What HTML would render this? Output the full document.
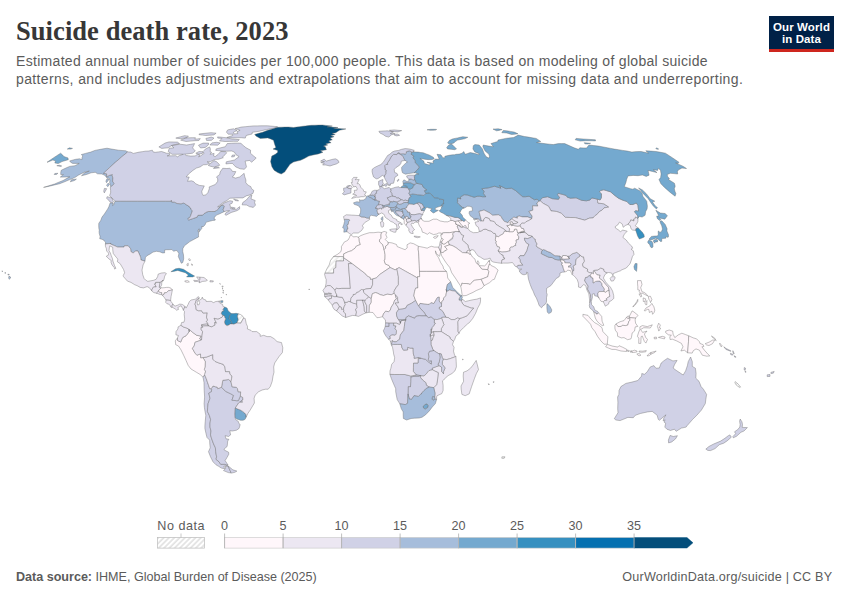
<!DOCTYPE html>
<html><head><meta charset="utf-8"><title>Suicide death rate, 2023</title>
<style>
html,body{margin:0;padding:0;background:#fff;}
body{width:850px;height:600px;position:relative;overflow:hidden;font-family:"Liberation Sans",sans-serif;color:#5b5b5b;}
#title{position:absolute;left:16px;top:15.5px;font-family:"Liberation Serif",serif;font-weight:bold;font-size:26.5px;line-height:30px;color:#373737;white-space:nowrap;letter-spacing:0.07px;transform-origin:0 0;}
.sub{position:absolute;left:16px;font-size:14px;line-height:16px;color:#5b5b5b;white-space:nowrap;}
#s1{top:52.5px;letter-spacing:0.31px;} #s2{top:71.3px;letter-spacing:0.378px;}
#logo{position:absolute;left:769px;top:16px;width:65px;height:35.8px;background:linear-gradient(to bottom,#002147 0,#002147 33.2px,#ce261e 33.2px,#ce261e 100%);color:#fff;font-weight:bold;font-size:11.5px;line-height:12.1px;text-align:center;letter-spacing:0.12px;}
#logo div{padding-top:5.1px;}
#map{position:absolute;left:0;top:0;}
.tk{position:absolute;top:518.6px;width:40px;text-align:center;font-size:12.6px;line-height:14px;color:#5b5b5b;}
#nd{position:absolute;left:157.3px;top:518.6px;font-size:12.6px;line-height:14px;white-space:nowrap;letter-spacing:0.5px;}
.ft{position:absolute;top:570px;font-size:12.6px;line-height:14px;white-space:nowrap;color:#5b5b5b;}
#fl{left:16px;letter-spacing:-0.02px;} #fr{right:17.7px;letter-spacing:0.2px;}
</style></head><body>
<div id="title">Suicide death rate, 2023</div>
<div class="sub" id="s1">Estimated annual number of suicides per 100,000 people. This data is based on modeling of global suicide</div>
<div class="sub" id="s2">patterns, and includes adjustments and extrapolations that aim to account for missing data and underreporting.</div>
<div id="logo"><div>Our World<br>in Data</div></div>
<svg id="map" width="850" height="600" viewBox="0 0 850 600">
<defs><pattern id="nd" width="3.75" height="3.75" patternUnits="userSpaceOnUse" patternTransform="rotate(45)"><rect width="3.75" height="3.75" fill="#fff"/><line x1="1" y1="0" x2="1" y2="3.75" stroke="#e6e6e6" stroke-width="1.2"/></pattern></defs>
<g stroke="#666" stroke-width="0.4" stroke-linejoin="round" fill-rule="evenodd">
<path d="M511.7,225.6L511.0,225.7L510.8,224.6ZM488.6,261.1L488.6,261.0L488.8,260.8L488.8,261.6ZM489.9,263.7L490.0,263.8L489.9,263.9ZM487.7,269.6L488.9,271.4L487.6,269.6ZM440.7,252.2L440.6,251.8L440.6,251.7L440.7,252.2ZM452.5,239.0L448.1,241.6L452.8,237.1ZM458.3,225.4L458.6,225.3L458.8,225.6ZM465.0,225.2L466.2,226.0L465.8,227.5L468.0,228.6L463.1,227.0ZM456.4,224.4L456.5,224.4L458.6,225.2L458.6,225.3Z" fill="#ece7f2" stroke="none"/>
<path d="M8.6,278.0L9.0,276.1L11.0,277.5L9.2,279.3ZM7.9,274.1L9.4,274.6L8.1,275.1ZM4.9,272.5L5.9,273.0L4.9,273.3ZM2.8,271.2L2.2,271.7L1.9,270.9ZM54.8,173.5L57.9,173.3L56.4,174.5L54.2,174.5ZM60.7,166.4L56.8,165.7L59.6,165.3L61.7,166.0ZM215.4,219.5L215.1,220.2L212.5,220.5L209.5,221.3L206.5,222.1L205.9,222.8L205.0,224.9L202.9,227.0L201.9,226.0L201.9,228.3L199.5,231.4L198.8,232.2L199.1,228.8L197.9,230.9L198.7,232.5L198.5,235.9L198.6,236.9L196.1,238.2L192.8,240.0L189.8,241.6L187.1,243.7L184.4,245.8L182.8,248.7L182.7,251.3L183.5,255.0L183.7,258.9L182.8,262.5L181.3,263.3L180.5,261.5L179.7,259.7L178.3,256.5L178.9,253.6L177.2,250.8L176.0,250.5L173.6,251.3L171.8,249.5L169.1,249.7L166.8,249.7L164.6,250.0L164.6,252.9L162.3,252.9L159.7,251.8L156.5,251.3L153.0,252.1L150.3,253.9L147.0,255.7L145.4,257.6L145.0,261.2L140.9,259.9L140.6,257.1L139.2,253.9L137.9,251.0L135.4,251.0L133.3,253.1L130.9,251.6L130.6,248.7L128.1,245.8L124.4,245.8L124.0,247.1L117.6,247.1L114.0,245.5L110.4,244.0L110.9,243.4L105.4,244.0L105.6,242.1L103.8,240.6L103.8,240.0L101.9,239.3L99.7,238.7L100.1,236.6L99.2,233.3L99.1,231.2L99.3,230.1L98.9,228.8L98.7,225.7L98.8,223.3L100.7,220.5L102.0,217.1L104.4,214.0L107.7,208.9L108.9,206.6L110.2,202.8L113.3,203.3L112.5,205.6L113.7,204.8L115.0,201.2L120.6,201.2L126.2,201.2L131.8,201.2L137.3,201.2L142.9,201.2L148.5,201.2L154.1,201.2L159.7,201.2L165.3,201.2L170.9,201.2L171.4,200.2L171.6,202.0L174.7,202.2L177.1,203.5L181.1,203.8L183.7,203.0L186.5,204.8L189.4,206.6L189.8,207.6L191.0,208.6L190.9,209.4L192.4,210.7L190.3,216.6L189.7,217.6L188.1,218.4L187.9,219.2L188.8,220.0L192.5,218.7L197.2,217.1L197.5,216.1L197.9,215.3L202.6,215.1L204.2,213.5L206.8,212.0L208.3,211.5L211.6,211.5L214.9,211.5L215.3,210.9L216.7,210.4L218.2,209.1L219.5,207.1L221.8,205.2L223.6,205.4L224.4,206.1L223.2,209.7L223.7,210.7L224.1,211.7L219.2,214.0L216.4,215.1L214.4,217.4L214.2,219.2ZM108.0,183.2L109.4,184.2L107.8,186.7L106.6,185.4ZM105.9,181.3L106.9,178.8L109.1,179.3L106.5,182.7ZM71.5,179.8L76.4,179.1L74.5,180.5L70.3,181.8ZM103.5,173.3L106.7,173.8L106.6,176.7L109.9,175.2L112.4,174.5L112.2,175.7L112.9,177.9L112.6,181.3L114.2,183.7L111.7,186.2L110.7,186.7L110.3,184.9L109.6,182.5L109.9,180.0L108.9,178.1L107.0,178.1L105.9,176.4L104.2,175.0L101.8,174.0L97.5,173.8L95.3,172.3L91.1,172.8L86.5,174.5L81.5,175.7L84.7,172.8L89.3,171.1L84.6,172.1L78.3,175.2L74.8,177.6L69.8,179.6L64.6,181.8L59.7,183.7L54.6,184.9L49.4,186.2L43.6,187.4L49.0,185.7L54.6,184.0L58.1,182.5L63.1,180.5L68.2,177.6L69.9,176.9L67.1,176.9L64.1,177.1L60.3,177.1L63.4,174.5L60.7,174.5L60.8,172.1L61.3,170.2L65.8,168.1L69.6,166.4L75.0,165.7L79.2,163.4L76.2,163.4L72.7,163.4L70.7,162.3L69.7,160.9L75.6,159.3L79.6,158.8L81.9,159.7L82.0,157.7L82.8,155.9L81.3,154.6L85.5,153.4L90.7,152.1L94.9,150.4L98.4,149.7L101.8,149.1L107.0,148.2L110.0,148.8L113.0,149.3L115.7,149.7L118.4,150.2L122.1,150.5L125.8,150.8L127.7,151.9L121.4,157.1L115.3,162.4L109.3,167.8Z" fill="#a6bddb"/>
<path d="M142.0,270.1L142.7,274.6L144.1,278.5L145.7,280.1L147.8,281.4L150.2,280.9L153.6,280.3L156.1,279.3L157.6,276.7L158.2,274.1L161.5,273.0L164.9,272.7L166.4,273.5L164.7,276.1L164.0,279.3L163.4,280.4L162.2,280.7L160.7,282.2L159.9,282.4L155.7,282.4L155.5,283.9L154.6,283.9L156.3,286.9L153.5,287.0L152.1,289.2L151.8,290.9L149.3,287.7L147.1,286.6L143.6,287.9L140.2,287.4L137.0,285.6L134.8,284.8L131.0,282.4L127.4,281.1L125.4,278.8L123.5,276.7L123.2,275.6L124.6,272.7L123.6,269.6L122.7,268.0L120.1,263.6L117.4,261.8L117.8,259.1L116.1,257.1L115.2,256.0L113.2,253.4L112.7,249.2L112.8,247.4L109.8,245.8L109.3,247.9L109.0,250.5L110.4,253.1L111.3,255.7L112.4,258.4L112.9,261.0L114.0,264.1L114.6,265.7L115.9,268.3L114.6,269.1L114.2,267.5L112.0,264.9L111.0,262.3L111.2,260.5L108.9,258.9L107.1,257.1L106.2,256.3L108.3,255.2L108.6,253.1L106.6,251.0L106.3,248.4L105.4,246.3L105.4,244.0L110.9,243.4L110.4,244.0L114.0,245.5L117.6,247.1L124.0,247.1L124.4,245.8L128.1,245.8L130.6,248.7L130.9,251.6L133.3,253.1L135.4,251.0L137.9,251.0L139.2,253.9L140.6,257.1L140.9,259.9L145.0,261.2L143.1,264.9Z" fill="#ece7f2"/>
<path d="M162.2,280.9L161.7,283.2L161.7,285.0L160.1,287.4L159.2,287.4L159.9,282.4L160.7,282.2L162.2,280.7L163.4,280.4L163.1,281.1Z" fill="#ece7f2"/>
<path d="M161.2,287.8L161.2,287.9L158.9,290.0L158.4,291.3L156.5,293.0L156.5,293.2L153.8,292.6L151.9,291.1L151.8,290.9L152.1,289.2L153.5,287.0L156.3,286.9L154.6,283.9L155.5,283.9L155.7,282.4L159.9,282.4L159.2,287.4L160.1,287.4L160.7,287.7Z" fill="#ece7f2"/>
<path d="M160.1,294.5L156.5,293.2L156.5,293.2L156.5,293.0L158.4,291.3L160.3,292.4L161.8,292.6L161.7,294.2L161.6,294.7Z" fill="#ece7f2"/>
<path d="M166.5,287.4L168.8,287.4L171.0,288.2L172.4,289.8L172.4,289.8L170.8,290.3L168.4,290.8L166.4,292.6L164.3,292.9L164.2,294.2L162.8,295.0L162.2,295.2L161.9,294.7L161.6,294.7L161.7,294.2L161.8,292.6L160.3,292.4L158.4,291.3L158.9,290.0L161.2,287.9L161.2,287.8L161.8,287.9L164.2,287.7Z" fill="#fff7fb"/>
<path d="M171.1,296.3L170.6,300.2L170.7,300.5L170.6,300.5L168.3,300.2L166.0,300.0L165.9,300.0L164.4,297.6L162.3,295.2L162.2,295.2L162.8,295.0L164.2,294.2L164.3,292.9L166.4,292.6L168.4,290.8L170.8,290.3L172.4,289.8L171.9,292.4Z" fill="#ece7f2"/>
<path d="M172.9,303.9L173.0,304.0L172.1,305.5L172.0,307.4L171.8,307.5L170.5,306.8L170.3,305.5L168.1,303.9L167.2,303.9L165.7,302.3L166.0,300.2L165.9,300.0L166.0,300.0L168.3,300.2L170.6,300.5L170.7,300.5L171.0,301.5Z" fill="#ece7f2"/>
<path d="M175.3,306.0L177.7,305.2L179.8,304.1L182.3,304.4L184.8,306.2L185.0,306.5L183.4,310.2L182.4,308.1L181.1,305.7L179.2,306.8L177.8,307.5L178.6,309.4L176.5,310.2L175.2,308.9L172.3,307.3L172.0,307.4L172.1,305.5L173.0,304.0L173.8,305.5Z" fill="#ece7f2"/>
<path d="M110.1,202.0L108.4,200.0L106.6,198.2L107.1,196.7L111.8,197.9L113.4,201.5L112.8,202.8ZM104.4,188.4L106.7,188.7L104.3,192.9L103.7,191.2ZM175.9,155.7L177.4,156.8L179.5,155.5L183.5,154.2L179.7,154.2L175.9,154.3L172.1,154.3L170.1,152.9L168.2,151.5L169.3,148.2L173.9,147.8L172.7,146.7L171.5,145.7L175.5,144.9L179.6,144.2L183.1,144.6L186.6,145.0L190.7,144.3L194.6,143.6L192.6,147.8L193.9,149.4L195.3,151.0L192.5,153.2L189.1,153.7L185.8,154.1L184.6,154.1L186.3,155.5L188.5,155.8L190.8,156.1L195.2,155.9L197.4,154.3L199.9,154.8L198.6,157.0L201.1,155.5L204.2,153.2L202.9,152.0L202.4,153.4L198.4,154.1L195.8,153.2L199.0,151.5L203.0,151.7L205.5,148.9L209.6,146.9L210.4,148.9L210.2,151.0L210.3,151.9L211.6,152.3L210.1,154.3L214.1,153.4L213.5,155.9L215.2,156.6L218.2,154.3L220.7,151.5L223.1,151.6L225.5,151.7L226.7,152.8L225.0,154.8L222.6,157.0L223.3,157.7L218.4,159.3L215.8,159.3L213.6,160.0L210.7,161.6L207.1,161.8L209.6,163.2L206.9,164.6L203.2,164.8L200.2,166.9L196.4,168.1L192.9,170.4L188.6,174.0L186.2,176.9L189.2,177.1L187.5,181.3L191.6,180.8L193.9,181.8L195.6,183.7L199.4,185.4L204.3,185.9L201.8,191.2L202.1,193.2L203.0,195.4L205.9,194.9L208.0,192.4L209.3,188.7L209.2,186.9L215.3,184.5L217.7,181.3L217.7,178.8L216.5,176.9L219.7,174.5L220.1,172.1L222.7,168.3L226.7,168.5L229.9,168.3L232.0,170.4L232.4,171.4L235.8,171.6L234.1,175.2L232.3,176.9L235.5,178.1L239.8,176.9L244.1,173.3L244.7,176.4L245.9,180.0L245.8,182.5L247.7,184.9L250.9,186.7L251.5,188.7L253.8,190.4L253.0,193.4L249.9,194.9L246.2,195.9L242.9,197.9L239.9,197.9L236.9,197.9L233.4,198.1L229.8,198.2L227.0,200.5L223.2,202.5L217.6,206.8L219.8,206.3L224.0,203.0L229.9,200.7L232.7,201.2L232.1,203.3L229.7,204.3L230.4,206.3L230.4,208.4L233.1,209.4L236.2,209.4L239.6,206.6L239.6,209.1L236.9,210.7L231.2,212.5L226.1,215.3L224.9,214.5L225.9,212.7L229.6,210.7L226.5,210.9L224.1,211.7L223.7,210.7L223.2,209.7L224.4,206.1L223.6,205.4L221.8,205.2L219.5,207.1L218.2,209.1L216.7,210.4L215.3,210.9L214.9,211.5L211.6,211.5L208.3,211.5L206.8,212.0L204.2,213.5L202.6,215.1L197.9,215.3L197.5,216.1L197.2,217.1L192.5,218.7L188.8,220.0L187.9,219.2L188.1,218.4L189.7,217.6L190.3,216.6L192.4,210.7L190.9,209.4L191.0,208.6L189.8,207.6L189.4,206.6L186.5,204.8L183.7,203.0L181.1,203.8L177.1,203.5L174.7,202.2L171.6,202.0L171.4,200.2L170.9,201.2L165.3,201.2L159.7,201.2L154.1,201.2L148.5,201.2L142.9,201.2L137.3,201.2L131.8,201.2L126.2,201.2L120.6,201.2L115.0,201.2L114.7,200.5L112.7,198.7L110.7,196.7L109.6,195.4L110.6,192.9L110.6,190.4L110.3,187.9L110.7,186.7L111.7,186.2L114.2,183.7L112.6,181.3L112.9,177.9L112.2,175.7L112.4,174.5L109.9,175.2L106.6,176.7L106.7,173.8L103.5,173.3L109.3,167.8L115.3,162.4L121.4,157.1L127.7,151.9L130.8,152.1L133.4,153.4L139.2,152.1L142.2,151.7L145.2,151.2L148.8,151.0L152.3,150.2L153.4,152.1L155.6,152.3L158.6,151.9L161.6,151.5L164.0,152.3L166.4,153.2L169.6,153.4L169.7,155.0L167.1,155.9L171.5,155.8ZM208.6,143.1L208.3,145.0L205.3,147.4L200.6,148.0L199.5,146.6L198.5,145.2L203.0,143.1L205.8,143.1ZM177.4,142.1L179.5,143.6L175.6,144.5L171.7,145.4L168.2,147.8L164.9,148.1L161.7,148.4L158.9,146.9L165.0,143.1L169.0,141.9L173.2,142.0ZM217.7,145.2L213.8,145.1L209.9,145.0L211.9,142.9L216.5,142.3L220.2,142.9ZM186.0,137.9L189.1,137.8L192.3,137.7L195.4,137.7L194.9,139.2L197.6,138.9L200.3,138.6L198.9,140.5L194.7,140.7L190.4,141.1L186.0,141.5L183.3,140.8L180.7,140.1ZM211.5,140.3L209.1,140.4L206.6,140.5L205.9,138.4L211.3,137.1L214.0,138.1ZM187.0,137.7L183.7,138.2L180.3,138.6L178.0,138.4L175.8,138.1L180.1,136.9L184.5,135.7L186.5,135.9L188.4,136.1ZM211.0,132.7L213.6,132.9L216.1,133.2L213.9,134.9L209.9,135.2L205.7,135.5L202.5,135.1L199.3,134.7L198.9,134.0L203.0,133.5L207.0,133.1ZM235.3,207.9L234.3,208.9L231.8,208.4L231.4,207.1ZM251.0,198.9L255.2,200.5L254.6,202.5L255.5,205.1L253.3,207.4L249.4,206.6L246.8,205.1L242.1,204.8L242.8,202.5L246.3,200.0L249.5,196.2L251.9,194.9ZM233.5,198.9L238.1,200.2L238.5,201.0L235.0,200.5ZM213.5,168.5L215.0,167.1L218.6,167.1L219.4,167.8L216.5,168.2ZM216.7,161.8L218.9,163.9L219.7,165.3L214.1,167.1L210.2,166.2L208.2,165.3L214.0,160.6ZM234.3,156.6L231.5,157.0L232.4,155.0L235.0,155.0ZM245.8,147.6L248.2,148.9L250.6,150.2L250.4,153.2L253.3,155.7L256.2,158.1L251.5,162.3L249.8,160.4L245.1,161.1L246.5,166.9L244.4,169.3L240.1,168.8L237.9,167.8L235.7,166.9L234.0,165.1L232.4,163.4L229.2,163.6L225.9,163.9L226.3,161.8L230.4,160.9L234.5,160.0L239.1,156.6L236.0,154.8L234.4,152.1L231.8,151.0L229.2,151.1L226.7,151.2L224.2,151.1L221.8,151.0L218.8,150.7L215.7,150.4L216.2,148.9L220.8,147.8L225.3,146.7L227.2,143.6L231.3,143.3L235.5,143.1L237.7,143.2L239.4,143.1L239.7,143.3L240.9,143.3L243.2,145.4ZM217.8,138.1L217.6,136.9L220.4,137.1L223.1,137.4L225.9,137.7L229.0,138.4L232.1,139.0L235.7,139.3L239.3,139.6L237.8,141.3L233.6,141.3L229.4,141.4L225.1,141.5L222.3,141.2L219.5,140.9L222.0,138.4L219.9,138.3ZM232.9,134.2L230.6,134.2L228.2,134.2L227.3,133.1L226.4,132.1L227.7,129.9L230.6,129.3L233.5,128.8L235.2,129.6L237.1,130.4L233.4,132.3L234.0,133.9L237.8,133.6L237.0,131.7L240.1,130.3L237.6,129.4L235.1,128.6L238.1,127.9L241.1,127.1L245.3,126.7L249.5,126.3L253.6,125.9L257.1,125.9L260.6,125.8L264.0,125.8L267.5,125.8L270.8,126.1L274.2,126.4L277.5,126.7L273.3,128.3L269.9,128.9L266.5,129.6L262.8,130.4L259.1,131.3L255.7,131.8L252.3,132.3L252.1,134.0L249.2,134.7L246.2,135.5L245.3,138.1L243.2,137.9L241.1,137.7L237.2,137.8L233.3,137.9L230.1,137.7L226.8,137.5L232.7,135.5Z" fill="#d0d1e6"/>
<path d="M254.7,134.4L258.6,133.3L262.5,132.3L267.7,130.3L270.7,129.4L273.7,128.6L277.7,127.3L281.2,127.2L284.8,127.1L288.3,127.0L290.9,127.2L293.5,127.5L296.5,127.1L299.5,126.7L302.5,126.3L305.6,125.9L308.4,125.6L311.3,125.3L315.0,125.2L318.7,125.1L322.4,125.0L325.7,125.4L329.0,125.7L332.3,126.1L329.7,126.5L327.0,127.0L330.7,127.1L334.3,127.3L338.0,127.5L335.8,127.9L333.6,128.3L337.7,128.5L341.8,128.7L345.9,128.9L342.7,129.6L339.4,130.3L335.8,132.7L332.1,133.4L335.2,134.5L330.7,135.7L334.1,136.7L330.1,138.1L332.3,139.8L328.6,141.1L331.1,142.7L328.3,143.3L325.6,144.0L327.7,145.0L323.5,146.1L325.3,146.7L326.4,149.7L323.5,150.3L320.5,150.8L322.9,152.3L318.3,153.9L315.7,154.4L313.0,155.0L308.8,156.1L304.3,158.6L300.6,160.2L297.1,161.1L293.5,162.0L290.0,164.3L287.0,168.5L284.6,172.1L281.2,174.0L277.7,172.6L274.1,170.2L271.9,166.7L270.6,161.6L271.8,156.1L275.3,154.3L277.7,152.3L277.6,150.4L275.3,149.7L273.0,149.1L275.9,147.6L274.7,144.4L273.5,140.3L270.6,139.0L267.8,137.9L264.0,138.2L260.3,138.4L258.1,137.3L256.0,136.1Z" fill="#034e7b"/>
<path d="M320.6,161.1L324.1,159.1L326.3,161.1L329.1,160.3L331.8,159.5L335.4,158.8L337.8,160.0L339.1,162.3L336.5,163.9L333.2,164.9L330.0,166.0L325.7,165.0L322.6,165.0L324.2,163.4L320.8,162.5L324.5,161.6Z" fill="#d0d1e6"/>
<path d="M223.5,470.6L224.8,469.3L225.8,468.1L225.2,466.6L228.1,466.1L231.2,473.0L228.3,472.6ZM223.9,466.3L224.6,468.8L221.4,468.1L218.6,466.3L216.0,464.8L213.0,461.8L210.5,456.8L208.5,451.7L210.2,447.8L209.8,444.0L209.6,440.1L207.0,437.5L206.0,433.6L204.9,428.4L204.9,425.8L205.2,421.9L205.8,415.3L205.0,411.4L204.4,407.5L204.1,403.6L204.6,397.0L204.2,390.5L204.1,386.6L204.0,382.6L203.0,377.1L202.8,377.0L204.6,374.8L206.3,378.7L207.6,382.6L208.6,385.3L209.7,388.7L211.2,388.7L211.7,389.2L211.4,391.8L208.8,393.1L210.0,398.3L208.1,403.6L207.7,407.5L207.4,411.4L209.3,415.3L210.6,419.3L210.0,423.2L210.0,427.1L211.0,431.0L210.5,434.9L211.7,438.8L213.6,444.0L215.4,447.8L215.7,451.7L216.6,456.8L216.0,459.3L219.0,461.8L220.7,464.3L224.6,464.3L227.9,465.2L226.1,465.6Z" fill="#d0d1e6"/>
<path d="M236.9,471.1L234.9,472.3L231.4,473.1L231.2,473.0L228.1,466.1L229.2,466.8L232.8,469.8ZM239.0,423.7L240.2,424.5L239.1,428.4L236.5,430.2L232.4,431.0L229.8,430.7L230.6,434.9L228.5,436.5L225.1,435.7L226.0,438.8L228.9,439.3L227.7,441.1L227.3,445.3L227.1,446.5L224.0,449.1L224.4,450.1L228.6,452.2L228.8,454.2L227.0,457.5L225.1,460.6L228.1,465.1L227.9,465.2L224.6,464.3L220.7,464.3L219.0,461.8L216.0,459.3L216.6,456.8L215.7,451.7L215.4,447.8L213.6,444.0L211.7,438.8L210.5,434.9L211.0,431.0L210.0,427.1L210.0,423.2L210.6,419.3L209.3,415.3L207.4,411.4L207.7,407.5L208.1,403.6L210.0,398.3L208.8,393.1L211.4,391.8L211.7,389.2L211.2,388.7L213.0,386.0L215.6,386.8L217.2,387.1L217.8,388.7L221.5,387.2L225.5,391.3L230.9,393.9L233.6,395.5L231.9,400.2L236.7,400.7L238.3,400.7L240.4,396.0L242.8,397.5L242.9,399.9L238.6,403.0L235.3,408.0L235.0,414.0L235.2,417.7L235.6,419.5L238.3,421.4Z" fill="#d0d1e6"/>
<path d="M245.1,419.3L243.1,420.3L240.5,420.3L236.8,419.0L235.2,417.7L235.0,414.0L235.3,408.0L239.1,409.6L240.0,409.8L242.7,411.4L244.7,413.0L246.0,414.6L246.1,417.2Z" fill="#74a9cf"/>
<path d="M242.5,402.3L239.6,402.3L241.9,400.6ZM236.7,400.7L231.9,400.2L233.6,395.5L230.9,393.9L225.5,391.3L221.5,387.2L222.8,380.3L228.7,379.5L231.0,381.7L232.1,386.8L236.4,387.3L237.4,388.4L238.2,391.8L240.7,391.8L240.4,396.0L238.3,400.7Z" fill="#d0d1e6"/>
<path d="M228.7,379.5L222.8,380.3L221.5,387.2L217.8,388.7L217.2,387.1L215.6,386.8L213.0,386.0L211.2,388.7L209.7,388.7L208.6,385.3L207.6,382.6L206.3,378.7L204.6,374.8L204.5,374.3L205.4,371.4L204.3,369.6L205.0,366.9L205.3,361.7L203.0,357.6L206.7,357.0L212.8,354.6L212.8,359.1L215.0,361.4L219.0,363.0L223.2,364.3L224.9,366.9L225.5,371.6L229.6,371.6L230.1,374.3L232.0,376.1L231.6,378.7L231.0,381.7Z" fill="#ece7f2"/>
<path d="M205.3,361.7L205.0,366.9L204.3,369.6L205.4,371.4L204.5,374.3L204.6,374.8L202.8,377.0L200.2,374.5L196.3,372.2L191.0,369.0L188.2,365.4L186.0,360.4L183.6,355.2L181.0,349.9L178.5,346.0L175.7,344.7L175.3,340.8L177.5,337.9L177.6,340.5L180.7,342.1L182.0,338.9L182.8,337.4L186.0,335.8L189.2,331.6L189.0,329.3L192.7,332.4L196.7,335.3L201.2,336.1L199.7,338.9L201.5,340.0L195.0,342.3L194.2,346.0L192.4,348.4L195.0,353.1L196.9,355.2L200.5,353.9L200.7,357.8L203.0,357.6Z" fill="#fff7fb"/>
<path d="M186.0,335.8L182.8,337.4L182.0,338.9L180.7,342.1L177.6,340.5L177.5,337.9L178.4,335.5L175.9,334.8L176.0,331.6L177.9,329.0L178.1,326.9L180.9,325.3L183.9,327.2L186.7,328.0L189.0,329.3L189.1,331.8Z" fill="#ece7f2"/>
<path d="M189.0,329.3L189.2,331.6L189.1,331.8ZM201.2,336.1L196.7,335.3L192.7,332.4L189.0,329.3L186.7,328.0L183.9,327.2L180.9,325.3L181.6,322.5L184.0,322.2L184.7,319.1L184.2,314.6L184.5,311.5L183.4,310.2L185.0,306.5L186.1,308.1L188.1,304.4L189.4,301.5L191.1,300.0L195.3,299.2L198.4,296.6L199.3,298.1L196.4,300.0L195.0,304.1L196.0,307.0L196.1,309.6L198.2,310.7L201.6,310.7L202.9,313.0L207.3,312.8L206.5,317.2L207.6,320.1L206.4,321.7L207.7,323.0L208.4,325.9L207.3,324.0L201.7,324.6L201.7,326.1L203.1,327.2L201.2,327.4L201.2,329.5L202.6,331.6L202.0,335.8L201.5,340.0L199.7,338.9Z" fill="#ece7f2"/>
<path d="M207.3,324.0L208.4,325.9L201.7,326.0L201.7,324.6ZM197.5,304.9L199.1,304.7L199.7,302.3L198.6,300.7L198.6,300.7L201.7,298.9L202.3,297.1L202.9,298.9L206.0,300.2L206.2,301.5L211.2,301.3L213.5,302.6L215.8,301.5L220.5,301.0L218.6,301.8L220.3,303.4L222.6,304.4L223.0,306.5L224.8,307.0L223.1,309.4L224.0,310.7L222.1,311.5L221.4,313.6L222.9,315.4L222.2,317.2L218.0,319.3L214.1,318.3L216.5,323.2L214.7,322.5L215.1,325.1L211.6,326.9L208.4,325.9L207.7,323.0L206.4,321.7L207.6,320.1L206.5,317.2L207.3,312.8L202.9,313.0L201.6,310.7L198.2,310.7L196.1,309.6L196.0,307.0L195.0,304.1L196.4,300.0L199.3,298.1L197.7,300.2L198.3,300.6L197.2,302.1Z" fill="#ece7f2"/>
<path d="M228.1,310.7L230.4,312.8L231.3,313.6L229.6,315.9L229.1,318.5L230.7,320.4L232.4,324.0L230.6,323.9L227.8,325.6L226.7,325.6L225.1,324.3L224.4,321.9L225.6,318.8L224.7,317.5L224.5,315.9L222.9,315.4L221.4,313.6L222.1,311.5L224.0,310.7L223.1,309.4L224.8,307.0L227.1,308.1Z" fill="#3690c0"/>
<path d="M236.1,313.3L238.4,313.8L237.5,315.9L238.3,319.8L236.9,323.0L233.8,324.2L232.4,324.0L230.7,320.4L229.1,318.5L229.6,315.9L231.3,313.6L234.0,313.6Z" fill="#3690c0"/>
<path d="M243.0,316.4L243.6,318.0L240.8,323.2L236.9,323.0L238.3,319.8L237.5,315.9L238.4,313.8L240.7,314.6Z" fill="url(#nd)"/>
<path d="M245.2,318.5L246.3,323.8L247.5,326.4L247.4,329.0L250.9,330.3L252.1,331.6L256.7,331.6L260.2,334.2L260.2,336.3L263.7,335.3L267.1,336.6L270.6,336.6L274.1,338.7L277.1,341.6L281.5,342.6L282.8,347.8L282.4,352.5L279.1,356.5L277.3,359.1L274.7,363.0L273.7,366.9L274.0,372.2L273.0,376.1L272.2,381.3L270.3,386.6L268.2,389.2L265.5,389.2L262.1,390.0L258.5,391.8L255.1,395.2L254.1,398.3L254.4,403.0L252.0,407.0L250.2,410.1L248.0,413.2L246.1,417.2L246.0,414.6L244.7,413.0L242.7,411.4L240.0,409.8L239.1,409.6L235.3,408.0L238.6,403.0L239.6,402.3L242.5,402.3L241.9,400.6L242.9,399.9L242.8,397.5L240.4,396.0L240.7,391.8L238.2,391.8L237.4,388.4L236.4,387.3L232.1,386.8L231.0,381.7L231.6,378.7L232.0,376.1L230.1,374.3L229.6,371.6L225.5,371.6L224.9,366.9L223.2,364.3L219.0,363.0L215.0,361.4L212.8,359.1L212.8,354.6L206.7,357.0L203.0,357.6L200.7,357.8L200.5,353.9L196.9,355.2L195.0,353.1L192.4,348.4L194.2,346.0L195.0,342.3L201.5,340.0L202.0,335.8L202.6,331.6L201.2,329.5L201.2,327.4L203.1,327.2L201.7,326.1L201.7,326.0L208.4,325.9L211.6,326.9L215.1,325.1L214.7,322.5L216.5,323.2L214.1,318.3L218.0,319.3L222.2,317.2L222.9,315.4L224.5,315.9L224.7,317.5L225.6,318.8L224.4,321.9L225.1,324.3L226.7,325.6L227.8,325.6L230.6,323.9L232.4,324.0L233.8,324.2L236.9,323.0L240.8,323.2L243.6,318.0Z" fill="#ece7f2"/>
<path d="M351.5,235.1L353.2,236.9L356.5,236.6L358.2,237.2L359.1,238.2L359.3,241.4L360.4,244.5L356.4,246.1L355.0,248.2L351.5,250.8L348.6,251.6L343.7,253.9L343.6,256.6L338.6,256.6L333.5,256.6L333.4,256.6L333.5,256.5L337.4,254.4L340.8,251.8L341.5,249.2L341.4,246.6L344.4,241.9L346.3,241.1L348.1,240.0L349.5,237.4L350.2,235.3Z" fill="#fff7fb"/>
<path d="M329.2,264.9L330.5,260.5L333.4,256.6L333.5,256.6L338.6,256.6L343.6,256.6L343.5,261.0L339.8,261.0L336.1,261.0L335.9,267.6L333.7,268.8L333.6,273.2L329.2,273.2L324.9,273.2L326.9,268.8Z" fill="url(#nd)"/>
<path d="M326.2,279.3L325.5,278.0L324.5,274.1L324.9,273.2L329.2,273.2L333.6,273.2L333.7,268.8L335.9,267.6L336.1,261.0L339.8,261.0L343.5,261.0L343.6,257.6L347.9,260.6L352.2,263.6L348.4,263.6L348.9,269.8L349.4,276.0L349.9,282.2L350.4,288.4L346.1,288.4L341.7,288.4L338.5,288.7L336.3,288.2L335.1,290.3L332.6,287.9L330.4,285.6L327.6,285.6L325.3,287.1L326.1,283.2Z" fill="#ece7f2"/>
<path d="M324.5,293.4L327.5,293.4L328.6,292.9L331.4,293.5L331.4,294.2L328.6,294.1L327.5,294.6L324.5,294.7Z" fill="#ece7f2"/>
<path d="M324.5,294.7L324.5,294.7L327.5,294.6L328.6,294.1L331.4,294.2L331.4,293.5L328.6,292.9L327.5,293.4L324.5,293.4L322.9,290.5L325.3,287.1L327.6,285.6L330.4,285.6L332.6,287.9L335.1,290.3L335.5,292.4L336.6,294.2L336.8,296.6L334.8,296.8L331.6,295.8L327.0,296.3L324.7,296.6Z" fill="#ece7f2"/>
<path d="M326.3,298.1L324.7,296.6L327.0,296.3L331.6,295.8L331.5,298.4L329.2,298.9L328.5,300.2Z" fill="#ece7f2"/>
<path d="M329.7,302.1L328.5,300.2L329.2,298.9L331.5,298.4L331.6,295.8L334.8,296.8L336.8,296.6L339.6,297.1L342.3,297.3L343.9,300.2L344.6,302.3L345.3,304.4L344.1,306.8L343.4,309.1L341.6,309.6L341.1,307.0L339.3,306.8L338.6,305.2L337.2,302.8L334.2,303.1L332.4,305.5L331.5,304.1ZM336.9,295.0L336.8,296.6L336.7,295.0Z" fill="#ece7f2"/>
<path d="M334.2,309.4L332.6,306.8L332.4,305.5L334.2,303.1L337.2,302.8L338.6,305.2L339.3,306.8L338.1,308.9L336.5,310.9Z" fill="#ece7f2"/>
<path d="M342.2,315.9L338.8,312.8L336.5,310.9L338.1,308.9L339.3,306.8L341.1,307.0L341.6,309.6L343.4,309.1L343.9,310.2L343.6,312.0L345.5,313.6L345.7,317.5Z" fill="#ece7f2"/>
<path d="M352.6,315.4L349.2,316.4L345.7,317.5L345.5,313.6L343.6,312.0L343.9,310.2L343.4,309.1L344.1,306.8L345.3,304.4L344.6,302.3L346.9,302.3L348.7,301.3L350.4,301.8L353.8,303.4L356.6,303.9L357.2,307.5L355.6,309.4L356.5,312.0L355.8,315.7Z" fill="#ece7f2"/>
<path d="M363.0,314.1L359.5,315.9L358.4,316.4L355.8,315.7L356.5,312.0L355.6,309.4L357.2,307.5L356.6,303.9L356.6,300.2L362.8,300.0L363.2,302.8L364.2,306.8L364.4,310.9L365.8,313.0Z" fill="#ece7f2"/>
<path d="M364.4,310.9L364.2,306.8L363.2,302.8L362.8,300.0L365.1,300.2L364.8,301.8L366.7,305.5L366.7,312.8L365.8,313.0ZM361.9,300.0L362.8,300.0L361.9,300.0Z" fill="#ece7f2"/>
<path d="M366.7,312.8L366.7,305.5L364.8,301.8L365.1,300.2L366.2,299.2L368.5,296.8L371.3,298.4L371.3,302.3L369.4,305.5L369.2,312.3Z" fill="#ece7f2"/>
<path d="M366.2,299.2L365.1,300.2L362.8,300.0L361.9,300.0L361.9,300.0L356.6,300.2L356.6,303.9L353.8,303.4L350.4,301.8L350.8,298.1L352.9,295.8L353.1,294.5L355.4,294.2L356.6,292.4L358.4,291.8L361.4,289.5L363.5,289.8L363.7,292.4L365.3,293.9L367.8,295.8L368.5,296.8Z" fill="#ece7f2"/>
<path d="M361.4,289.5L358.4,291.8L356.6,292.4L355.4,294.2L353.1,294.5L352.9,295.8L350.8,298.1L350.4,301.8L348.7,301.3L346.9,302.3L344.6,302.3L343.9,300.2L342.3,297.3L339.6,297.1L336.8,296.6L336.9,295.0L336.7,295.0L336.6,294.2L335.5,292.4L335.1,290.3L336.3,288.2L338.5,288.7L341.7,288.4L346.1,288.4L350.4,288.4L349.9,282.2L349.4,276.0L348.9,269.8L348.4,263.6L352.2,263.6L358.9,268.7L365.6,273.8L367.1,275.9L370.3,277.5L370.5,279.3L372.7,278.9L372.6,284.8L371.0,288.4L366.0,289.0L363.5,289.8Z" fill="#ece7f2"/>
<path d="M370.5,279.3L370.3,277.5L367.1,275.9L365.6,273.8L358.9,268.7L352.2,263.6L347.9,260.6L343.6,257.6L343.6,256.6L343.7,255.7L343.7,253.9L348.6,251.6L351.5,250.8L355.0,248.2L356.4,246.1L360.4,244.5L359.3,241.4L359.1,238.2L358.2,237.2L360.8,235.6L364.1,234.3L369.5,232.7L373.8,232.7L378.1,232.2L381.6,232.5L381.0,234.8L381.1,238.2L379.4,240.0L379.7,241.9L382.8,244.8L384.1,249.7L385.1,254.7L385.0,259.7L384.1,260.5L385.5,264.1L388.9,265.4L390.1,267.5L385.0,270.9L380.0,274.3L376.2,278.0L372.7,278.9Z" fill="#fff7fb"/>
<path d="M382.8,244.8L379.7,241.9L379.4,240.0L381.1,238.2L381.0,234.8L381.6,232.5L384.1,231.4L386.8,232.2L385.8,234.8L387.0,237.4L385.3,239.5L387.1,241.4L388.2,242.4L388.3,244.2L385.7,246.1L385.6,248.2L384.1,249.7Z" fill="#fff7fb"/>
<path d="M405.1,249.7L407.2,247.9L407.0,244.8L410.2,242.9L413.6,243.7L418.4,246.3L418.2,249.2L418.6,252.6L419.0,258.9L419.3,265.2L419.5,271.4L419.7,276.7L417.5,276.7L417.5,278.0L411.4,274.5L405.2,271.1L399.1,267.6L396.9,268.8L395.1,269.9L390.1,267.5L388.9,265.4L385.5,264.1L384.1,260.5L385.0,259.7L385.1,254.7L384.1,249.7L385.6,248.2L385.7,246.1L388.3,244.2L388.2,242.4L392.0,242.9L396.5,244.5L397.2,246.6L401.7,248.4Z" fill="#fff7fb"/>
<path d="M427.2,248.2L429.3,247.1L431.4,246.3L434.4,247.1L438.6,247.1L440.6,251.8L439.6,256.3L436.5,253.6L435.4,250.8L435.8,253.6L438.6,257.8L440.5,262.3L443.0,266.2L443.6,268.8L446.5,271.4L439.7,271.4L433.0,271.4L426.3,271.4L419.5,271.4L419.3,265.2L419.0,258.9L418.6,252.6L418.2,249.2L418.4,246.3L423.8,247.4Z" fill="#fff7fb"/>
<path d="M368.5,296.8L367.8,295.8L365.3,293.9L363.7,292.4L363.5,289.8L366.0,289.0L371.0,288.4L372.6,284.8L372.7,278.9L376.2,278.0L380.0,274.3L385.0,270.9L390.1,267.5L395.1,269.9L396.9,268.8L397.6,272.7L398.4,276.7L398.4,280.7L398.4,284.8L395.9,287.9L394.1,291.1L394.2,293.2L391.7,294.7L387.1,294.2L383.6,295.5L380.2,294.7L377.9,293.4L375.6,292.6L372.4,293.7L371.3,298.4Z" fill="#ece7f2"/>
<path d="M376.9,317.7L374.5,314.6L372.9,312.5L369.2,312.3L369.4,305.5L371.3,302.3L371.3,298.4L372.4,293.7L375.6,292.6L377.9,293.4L380.2,294.7L383.6,295.5L387.1,294.2L391.7,294.7L394.2,293.2L395.3,294.7L395.6,296.6L396.5,298.9L394.7,300.2L393.4,303.9L391.3,307.0L390.2,310.4L388.6,311.7L385.6,311.2L383.5,313.8L382.6,316.7L379.2,317.5Z" fill="#fff7fb"/>
<path d="M385.4,319.8L383.8,318.5L382.6,316.7L383.5,313.8L385.6,311.2L388.6,311.7L390.2,310.4L391.3,307.0L393.4,303.9L394.7,300.2L396.5,298.9L395.6,296.6L395.3,294.7L396.3,295.5L397.6,297.3L397.7,300.2L398.7,302.8L395.2,303.1L398.0,307.0L398.7,309.4L396.4,312.8L396.7,315.9L397.9,318.8L400.0,321.4L400.4,323.2L399.5,324.6L396.5,323.2L393.7,323.2L389.1,323.2L385.6,323.0Z" fill="#ece7f2"/>
<path d="M385.6,323.0L389.1,323.2L389.1,326.4L385.2,326.4Z" fill="#d0d1e6"/>
<path d="M386.1,336.3L384.5,333.7L383.3,330.8L384.5,328.5L385.2,326.4L389.1,326.4L389.1,323.2L393.7,323.2L393.7,325.6L396.0,325.9L395.1,328.5L396.5,330.6L396.3,334.0L395.1,335.3L393.0,335.0L391.9,335.0L389.8,336.3L390.5,338.4L388.6,339.2Z" fill="#d0d1e6"/>
<path d="M388.6,339.2L390.5,338.4L389.8,336.3L391.9,335.0L393.0,335.0L395.1,335.3L396.3,334.0L396.5,330.6L395.1,328.5L396.0,325.9L393.7,325.6L393.7,323.2L396.5,323.2L399.5,324.6L400.4,323.2L401.1,320.6L406.0,319.8L404.8,322.7L404.4,326.4L403.9,330.3L400.4,334.8L399.7,339.2L398.1,340.3L396.2,341.8L393.9,341.8L393.2,341.0L392.1,340.5L390.7,342.1L390.2,340.8ZM399.8,321.2L400.4,321.2L400.4,323.2L400.0,321.4Z" fill="#ece7f2"/>
<path d="M395.2,303.1L398.7,302.8L397.7,300.2L397.6,297.3L396.3,295.5L395.3,294.7L394.2,293.2L394.1,291.1L395.9,287.9L398.4,284.8L398.4,280.7L398.4,276.7L397.6,272.7L396.9,268.8L399.1,267.6L405.2,271.1L411.4,274.5L417.5,278.0L417.7,283.0L417.9,287.9L415.6,288.2L414.5,291.8L413.9,295.8L415.6,300.5L411.3,303.4L407.0,305.5L405.9,308.1L402.2,309.1L398.7,309.4L398.0,307.0Z" fill="#ece7f2"/>
<path d="M413.9,295.8L414.5,291.8L415.6,288.2L417.9,287.9L417.7,283.0L417.5,278.0L417.5,276.7L419.7,276.7L419.5,271.4L426.3,271.4L433.0,271.4L439.7,271.4L446.5,271.4L447.3,274.1L447.7,278.0L450.7,281.9L447.4,284.5L446.3,289.5L446.6,291.6L445.8,295.8L443.6,298.1L443.4,300.2L441.9,301.3L441.5,304.1L439.1,301.0L439.2,297.1L437.4,297.6L433.9,303.5L430.9,302.8L429.3,304.4L427.4,304.4L424.0,304.1L420.1,303.4L418.7,306.2L417.3,303.9L415.6,300.5Z" fill="#fff7fb"/>
<path d="M447.4,284.5L450.7,281.9L452.8,287.7L455.7,290.3L458.1,292.9L460.5,295.0L461.9,295.8L460.3,296.3L457.5,293.9L455.0,291.1L452.3,290.8L449.7,290.0L446.6,291.6L446.3,289.4Z" fill="#a6bddb"/>
<path d="M462.5,299.2L461.6,300.4L459.1,300.2L459.0,298.9L460.3,296.3L461.9,295.8L462.4,297.6L461.3,298.9Z" fill="#a6bddb"/>
<path d="M468.7,300.7L473.3,299.7L476.7,299.2L480.6,297.9L480.5,301.5L479.9,304.1L477.7,308.1L475.6,313.3L472.7,318.5L469.3,322.7L467.7,323.8L463.5,327.7L460.1,331.1L459.1,333.4L457.8,331.4L457.8,326.5L457.7,321.7L459.7,318.5L460.0,318.3L462.3,317.7L466.9,315.9L470.2,312.0L473.6,308.1L471.3,308.1L467.8,306.8L464.3,305.5L463.1,304.4L461.2,301.3L461.6,300.4L462.5,299.2L465.3,301.5Z" fill="#ece7f2"/>
<path d="M443.4,300.2L443.6,298.1L445.8,295.8L446.6,291.6L449.7,290.0L452.3,290.8L455.0,291.1L457.5,293.9L460.3,296.3L459.0,298.9L459.1,300.2L461.6,300.4L461.2,301.3L463.1,304.4L464.3,305.5L467.8,306.8L471.3,308.1L473.6,308.1L470.2,312.0L466.9,315.9L462.3,317.7L460.0,318.3L459.7,318.5L457.2,318.0L454.9,319.6L451.0,319.6L448.2,317.5L446.1,317.4L445.9,317.0L444.5,314.9L443.0,311.7L441.4,310.2L439.0,308.6L439.5,307.0L441.5,306.5L441.5,304.1L441.9,301.3ZM446.3,289.4L446.6,291.6L446.3,289.5Z" fill="#ece7f2"/>
<path d="M453.5,341.3L449.8,338.2L450.1,337.1L445.7,334.4L441.3,331.6L441.3,328.7L441.6,328.2L442.7,326.4L443.9,324.6L442.7,321.2L441.5,318.0L442.4,317.0L445.9,317.0L446.1,317.4L448.2,317.5L451.0,319.6L454.9,319.6L457.2,318.0L459.7,318.5L457.7,321.7L457.8,326.5L457.8,331.4L459.1,333.4L455.9,336.1L454.7,339.5Z" fill="#ece7f2"/>
<path d="M420.1,303.4L424.0,304.1L427.4,304.4L429.3,304.4L430.9,302.8L433.9,303.5L437.4,297.6L439.2,297.1L439.1,301.0L441.5,304.1L441.5,306.5L439.5,307.0L439.0,308.6L441.4,310.2L443.0,311.7L444.5,314.9L445.9,317.0L442.4,317.0L441.5,318.0L439.2,319.1L436.9,319.6L434.6,319.3L434.4,319.8L431.1,317.0L428.6,317.7L426.2,315.9L423.9,312.0L421.1,309.4L418.7,306.2Z" fill="#d0d1e6"/>
<path d="M397.9,318.8L396.7,315.9L396.4,312.8L398.7,309.4L402.2,309.1L405.9,308.1L407.0,305.5L411.3,303.4L415.6,300.5L417.3,303.9L418.7,306.2L421.1,309.4L423.9,312.0L426.2,315.9L421.4,315.9L419.3,315.7L415.9,316.4L414.7,318.3L408.5,315.9L405.9,317.7L406.0,319.8L402.3,319.8L398.7,319.8Z" fill="#d0d1e6"/>
<path d="M434.6,319.3L436.9,319.6L439.2,319.1L441.5,318.0L442.7,321.2L443.9,324.6L442.7,326.4L441.6,328.2L441.3,328.7L441.3,331.6L437.4,331.7L433.5,331.7L431.4,332.7L431.4,330.6L432.1,327.4L433.5,325.9L435.3,323.2L434.2,322.7L434.4,319.8Z" fill="#ece7f2"/>
<path d="M433.5,331.7L434.3,335.1L433.5,335.3L432.1,335.3L430.9,336.3L430.0,336.1L430.5,334.2L431.4,332.7Z" fill="#ece7f2"/>
<path d="M432.1,335.3L433.5,335.3L434.3,335.1L433.2,337.6L432.3,340.3L430.9,340.6L430.7,337.6L430.0,336.1L430.9,336.3ZM430.0,334.2L430.5,334.2L430.0,336.1Z" fill="#ece7f2"/>
<path d="M433.2,337.6L434.3,335.1L433.5,331.7L437.4,331.7L441.3,331.6L445.7,334.4L450.1,337.1L449.8,338.2L453.5,341.3L452.5,344.7L454.1,347.3L453.5,351.2L454.6,355.2L455.9,356.5L450.3,358.6L446.8,359.6L443.2,359.2L442.3,357.8L441.2,353.9L438.7,353.6L436.7,352.5L433.8,350.5L433.3,350.5L431.0,344.7L430.9,340.6L432.3,340.3ZM431.4,332.7L430.9,333.4L430.9,329.0L431.8,329.0L431.4,330.6Z" fill="#ece7f2"/>
<path d="M454.9,370.9L452.0,373.5L447.3,376.1L445.3,378.4L442.5,380.8L443.1,385.3L443.1,390.5L441.8,393.6L437.1,395.7L436.6,397.0L436.6,399.4L434.9,399.2L434.7,396.9L435.0,393.1L433.7,387.6L436.6,384.7L437.5,380.0L437.9,376.1L438.3,372.7L434.5,370.9L432.5,369.8L432.1,368.2L435.6,366.9L439.1,365.6L441.7,367.2L441.6,371.4L443.5,373.7L443.6,371.4L445.1,368.0L442.3,364.3L442.4,361.7L443.2,359.2L446.8,359.6L450.3,358.6L455.9,356.5L456.2,361.7L456.4,366.9Z" fill="#ece7f2"/>
<path d="M441.2,353.9L442.3,357.8L443.2,359.2L442.4,361.7L442.3,364.3L445.1,368.0L443.6,371.4L443.5,373.7L441.6,371.4L441.7,367.2L439.1,365.6L437.9,364.6L439.4,361.4L440.0,357.3L439.6,354.1L438.7,353.6Z" fill="#d0d1e6"/>
<path d="M436.7,352.5L438.7,353.6L439.6,354.1L440.0,357.3L439.4,361.4L437.9,364.6L439.1,365.6L435.6,366.9L432.1,368.2L432.5,369.8L429.0,370.6L425.9,374.3L423.8,376.1L420.6,375.6L416.3,375.0L413.3,371.4L413.4,367.2L413.5,363.0L418.0,363.0L418.2,357.5L419.1,358.6L421.1,358.3L425.5,359.3L428.2,361.7L431.3,364.1L431.4,360.9L429.6,361.4L428.2,359.9L428.8,357.0L428.4,353.3L429.6,351.2L433.8,350.5Z" fill="#d0d1e6"/>
<path d="M423.8,376.1L425.9,374.3L429.0,370.6L432.5,369.8L434.5,370.9L438.3,372.7L437.9,376.1L437.5,380.0L436.6,384.7L433.7,387.6L429.5,387.1L426.4,385.3L425.8,382.6L422.5,380.0L420.6,377.7L420.6,375.6Z" fill="#ece7f2"/>
<path d="M420.6,377.7L422.5,380.0L425.8,382.6L426.4,385.3L429.5,387.1L426.9,388.1L423.9,390.7L421.3,393.6L418.4,396.5L414.0,395.7L411.6,399.4L409.3,399.1L408.0,393.9L408.2,386.6L410.5,386.6L410.7,381.7L410.8,376.9L416.1,376.1L418.8,376.1L420.6,375.6Z" fill="#d0d1e6"/>
<path d="M421.5,393.4L421.5,393.9L421.0,393.9L421.3,393.6ZM396.7,397.0L395.7,391.8L395.7,388.7L393.6,383.9L391.4,378.7L389.9,374.3L394.7,374.5L399.8,374.5L405.0,374.5L410.8,376.0L416.3,375.0L420.6,375.6L418.8,376.1L416.1,376.1L410.8,376.9L410.7,381.7L410.5,386.6L408.2,386.6L408.0,393.9L407.8,398.6L407.6,403.3L405.3,404.6L401.8,404.1L399.8,403.8L397.2,399.6Z" fill="#d0d1e6"/>
<path d="M424.9,404.6L426.9,403.8L428.4,405.7L427.8,407.5L425.4,409.1L423.7,408.3L423.0,406.4Z" fill="#74a9cf"/>
<path d="M434.9,399.2L433.0,400.4L432.0,399.1L432.3,397.5L432.6,396.4L434.7,396.9Z" fill="#a6bddb"/>
<path d="M406.6,420.0L403.4,418.5L403.2,414.8L403.2,411.9L401.3,408.8L399.8,403.8L401.8,404.1L405.3,404.6L407.6,403.3L407.8,398.6L408.0,393.9L409.3,399.1L411.6,399.4L414.0,395.7L418.4,396.5L421.0,393.9L421.5,393.9L421.5,393.4L423.9,390.7L426.9,388.1L429.5,387.1L433.7,387.6L435.0,393.1L434.7,396.9L432.6,396.4L432.3,397.5L432.0,399.1L433.0,400.4L434.9,399.2L436.6,399.4L435.4,403.6L432.3,407.0L429.3,410.9L425.6,414.8L422.1,417.2L419.2,418.0L414.4,418.2L411.1,418.5ZM427.8,407.5L428.4,405.7L426.9,403.8L424.9,404.6L423.0,406.4L423.7,408.3L425.4,409.1Z" fill="#a6bddb"/>
<path d="M393.6,353.9L393.4,352.0L392.5,347.3L391.4,345.0L393.5,344.4L397.4,344.4L401.3,344.4L402.0,347.8L403.5,350.2L407.6,349.9L407.6,347.3L410.3,348.1L413.2,348.1L413.2,351.0L413.4,354.1L414.3,356.5L414.2,358.3L418.2,357.5L418.0,363.0L413.5,363.0L413.4,367.2L413.3,371.4L416.3,375.0L410.8,376.0L405.0,374.5L399.8,374.5L394.7,374.5L389.9,374.3L390.0,370.9L390.9,368.2L391.7,364.3L394.0,361.7L394.7,357.8ZM420.5,357.8L420.4,358.4L419.1,358.6L418.2,357.5ZM393.2,341.0L392.1,342.1L391.8,343.9L391.1,344.2L390.7,342.1L392.1,340.5Z" fill="#ece7f2"/>
<path d="M396.2,341.8L398.1,340.3L399.7,339.2L400.4,334.8L403.9,330.3L404.4,326.4L404.8,322.7L406.0,319.8L405.9,317.7L408.5,315.9L414.7,318.3L415.9,316.4L419.3,315.7L421.4,315.9L426.2,315.9L428.6,317.7L431.1,317.0L434.4,319.8L434.2,322.7L435.3,323.2L433.5,325.9L432.1,327.4L431.8,329.0L430.9,329.0L430.9,333.4L430.5,334.2L430.0,334.2L430.0,336.1L430.7,337.6L430.9,340.6L431.0,344.7L433.3,350.5L433.8,350.5L429.6,351.2L428.4,353.3L428.8,357.0L428.2,359.9L429.6,361.4L431.4,360.9L431.3,364.1L428.2,361.7L425.5,359.3L421.1,358.3L420.4,358.4L420.5,357.8L418.2,357.5L414.2,358.3L414.3,356.5L413.4,354.1L413.2,351.0L413.2,348.1L410.3,348.1L407.6,347.3L407.6,349.9L403.5,350.2L402.0,347.8L401.3,344.4L397.4,344.4L393.5,344.4L391.4,345.0L391.1,344.2L391.8,343.9L392.1,342.1L393.2,341.0L393.9,341.8ZM398.7,319.8L402.3,319.8L406.0,319.8L401.1,320.6L400.4,323.2L400.4,321.2L399.8,321.2Z" fill="#d0d1e6"/>
<path d="M476.2,360.4L477.4,365.0L478.5,369.6L476.4,373.5L474.4,378.7L473.0,382.6L471.6,386.6L469.2,393.9L465.2,395.7L461.9,394.4L461.2,389.2L461.0,386.0L463.6,381.3L463.2,376.1L463.5,372.2L467.0,370.9L470.5,368.2L473.0,365.1Z" fill="#ece7f2"/>
<path d="M673.3,436.5L677.4,435.7L675.6,438.8L671.8,441.9L668.6,442.9L668.4,440.1L670.1,435.4ZM692.3,361.7L692.3,366.4L695.4,368.2L696.1,373.5L695.8,378.2L699.0,381.3L701.1,386.6L703.4,389.2L706.6,394.4L705.8,399.6L705.3,403.6L701.4,410.1L696.8,415.3L692.7,419.3L687.0,425.8L686.1,427.1L681.4,428.1L676.2,431.3L674.4,429.2L670.4,430.5L666.9,429.2L664.8,427.1L665.7,423.2L664.0,422.1L665.1,419.8L663.1,420.8L663.8,418.0L666.0,414.8L663.0,417.2L659.4,420.3L658.2,419.3L657.2,415.3L653.9,412.7L652.2,411.4L647.6,411.9L644.0,412.7L640.4,413.5L635.3,415.3L633.3,417.7L627.9,417.4L624.0,419.0L620.1,420.6L615.9,420.0L614.3,418.7L618.0,412.7L617.7,408.8L617.9,402.3L617.6,397.0L618.9,394.4L619.0,390.5L620.9,386.6L625.9,383.4L631.9,382.1L637.8,380.5L641.6,376.1L641.8,373.5L644.6,374.3L647.3,371.6L650.3,366.9L653.9,365.6L655.9,368.2L659.3,368.0L661.2,363.0L663.7,360.9L667.5,358.3L672.9,360.9L677.1,360.4L674.7,364.3L673.1,368.0L676.1,370.3L680.2,373.0L683.2,375.0L685.6,370.9L687.4,365.6L688.2,361.7L690.6,357.0Z" fill="#d0d1e6"/>
<path d="M731.3,437.2L727.1,440.9L723.7,443.2L719.3,444.7L715.1,448.6L710.6,450.6L707.8,450.4L705.8,449.1L708.9,446.5L713.7,444.0L720.6,441.1L724.9,438.3L728.3,435.7L729.9,434.9ZM742.0,421.9L742.5,424.5L742.2,427.4L747.4,427.6L744.0,431.0L740.9,432.3L736.6,436.2L733.3,437.8L732.8,436.7L735.7,433.6L734.5,431.8L737.6,429.7L739.8,427.1L740.1,424.5L739.6,421.1L740.2,419.0Z" fill="#d0d1e6"/>
<path d="M343.8,232.2L344.1,228.6L342.6,227.8L343.8,224.4L344.6,221.3L344.2,219.5L345.7,219.2L349.1,219.5L349.9,220.2L348.6,221.8L348.3,224.4L347.0,225.2L347.6,227.0L348.0,229.1L346.9,229.6L347.0,231.7Z" fill="#a6bddb"/>
<path d="M346.3,214.8L351.5,215.1L355.1,215.3L359.2,215.6L361.5,216.9L364.5,217.1L366.6,217.9L369.5,218.2L369.7,219.5L367.7,220.8L364.7,222.6L362.4,225.7L363.4,227.8L361.5,230.6L358.9,232.5L358.2,233.0L353.5,233.0L351.3,234.6L349.4,233.5L347.0,231.7L346.9,229.6L348.0,229.1L347.6,227.0L347.0,225.2L348.3,224.4L348.6,221.8L349.9,220.2L349.1,219.5L345.7,219.2L344.2,219.5L343.5,216.6Z" fill="#ece7f2"/>
<path d="M382.7,216.6L383.0,219.2L382.5,220.8L381.4,220.0L381.1,218.2ZM360.5,208.4L358.5,205.8L354.2,204.3L353.5,202.8L356.9,201.7L359.8,202.2L359.4,199.5L360.6,200.2L363.4,200.0L366.0,198.4L366.2,196.4L368.0,195.9L368.8,196.9L371.4,197.9L372.6,198.7L372.8,199.2L374.7,200.0L375.9,200.0L378.1,201.0L379.6,201.2L378.5,204.8L377.3,205.3L375.5,207.9L375.5,208.4L377.0,207.9L377.4,209.1L377.1,210.9L377.5,212.2L377.6,213.5L379.0,213.8L378.6,214.5L376.6,216.4L374.1,215.8L371.4,215.3L369.5,216.6L369.5,218.2L366.6,217.9L364.5,217.1L361.5,216.9L359.2,215.6L360.5,212.5L360.7,209.9Z" fill="#a6bddb"/>
<path d="M372.8,199.2L372.6,198.7L371.4,197.9L368.8,196.9L368.0,195.9L369.8,195.2L371.5,195.2L372.9,194.9L374.7,195.9L374.4,196.7L375.2,196.9L375.8,197.9L375.2,198.4L374.6,198.9L374.7,200.0Z" fill="#a6bddb"/>
<path d="M374.7,200.0L374.6,198.9L375.2,198.4L376.1,199.2L375.9,200.0Z" fill="#d0d1e6"/>
<path d="M374.7,190.2L377.1,190.4L376.9,191.7L376.2,192.2L376.8,193.2L374.9,194.2L375.3,195.2L375.2,196.9L374.4,196.7L374.7,195.9L372.9,194.9L371.5,195.2L369.8,195.2L370.9,193.7L372.2,191.2Z" fill="#d0d1e6"/>
<path d="M377.0,207.9L375.5,208.4L375.5,207.9L377.3,205.3L378.5,204.8L380.5,204.5L382.6,205.1L382.4,206.1L384.5,206.6L383.8,208.1L382.1,207.9L381.6,209.4L380.3,207.9L379.3,209.1L377.4,209.1Z" fill="#d0d1e6"/>
<path d="M396.5,228.8L395.8,232.2L393.9,232.2L390.1,230.6L389.7,229.6L391.8,229.1ZM383.8,223.1L383.5,226.5L381.8,227.3L381.0,226.2L380.4,222.1L382.5,221.3ZM388.8,213.3L391.2,215.1L392.8,217.9L396.7,219.5L396.8,220.8L401.2,222.8L402.4,224.1L402.0,224.9L399.1,223.1L398.2,225.2L399.6,227.0L398.4,228.8L396.8,229.9L396.9,227.8L396.4,224.4L394.9,223.9L393.8,222.8L393.1,222.3L390.5,221.3L388.7,219.7L386.3,218.2L385.0,216.9L384.5,215.3L383.4,213.8L381.5,213.0L378.6,214.5L379.0,213.8L377.6,213.5L377.5,212.2L377.1,210.9L377.4,209.1L379.3,209.1L380.3,207.9L381.6,209.4L382.1,207.9L383.8,208.1L384.4,206.7L384.5,206.7L385.5,206.8L387.9,206.1L388.4,207.1L391.1,207.6L390.6,208.4L391.0,209.4L391.2,209.7L389.8,209.9L388.4,210.7ZM391.2,209.9L391.2,209.7L391.3,209.8Z" fill="#ece7f2"/>
<path d="M384.2,188.7L386.3,188.2L389.2,187.4L390.7,188.9L391.2,190.7L390.7,191.7L392.0,193.4L392.2,194.9L392.9,196.2L392.5,196.4L391.5,196.2L389.9,196.9L388.0,197.7L387.2,197.9L388.1,199.2L388.8,200.5L390.9,201.7L390.2,202.8L389.0,203.5L389.5,205.1L387.9,204.8L385.4,205.3L383.8,205.6L382.6,205.1L380.5,204.5L378.5,204.8L379.6,201.2L378.1,201.0L375.9,200.0L376.1,199.2L375.2,198.4L375.8,197.9L375.2,196.9L375.3,195.2L374.9,194.2L376.8,193.2L376.2,192.2L376.9,191.7L377.1,190.4L379.0,189.7L379.9,188.7L379.6,186.4L382.1,186.7Z" fill="#d0d1e6"/>
<path d="M383.6,184.9L383.6,185.9L382.3,185.9L382.0,185.3L381.5,186.2L382.1,186.7L379.6,186.4L378.6,184.7L378.6,181.3L381.5,180.0L383.0,179.6L382.6,182.2L383.6,183.2L382.2,184.9ZM387.2,184.9L386.2,186.4L384.6,185.7L384.3,184.5L386.9,183.5Z" fill="#d0d1e6"/>
<path d="M401.0,187.5L404.1,187.6L407.2,187.7L408.7,188.8L410.0,191.9L408.8,192.9L409.8,194.9L411.1,196.7L409.4,197.7L408.5,200.0L408.6,201.0L405.3,200.2L403.3,200.7L402.0,199.7L400.9,200.0L400.3,198.9L398.2,197.9L396.9,198.2L395.5,196.9L392.9,196.2L392.2,194.9L392.0,193.4L390.7,191.7L391.2,190.7L390.7,188.9L395.0,187.4L398.8,186.7L399.3,187.7ZM388.9,184.9L390.5,184.9L389.0,185.1Z" fill="#d0d1e6"/>
<path d="M388.8,200.5L388.1,199.2L387.2,197.9L388.0,197.7L389.9,196.9L391.5,196.2L392.5,196.4L392.9,196.2L395.5,196.9L396.9,198.2L398.2,197.9L400.3,198.9L400.9,200.0L399.5,201.0L397.8,201.5L397.3,202.2L395.6,201.9L393.3,201.2L392.8,202.2L390.9,201.7Z" fill="#d0d1e6"/>
<path d="M388.4,207.1L387.9,206.1L385.5,206.8L384.5,206.7L384.4,206.7L384.5,206.6L382.4,206.1L382.6,205.1L383.8,205.6L385.4,205.3L387.9,204.8L389.5,205.1L389.0,203.5L390.2,202.8L390.9,201.7L392.8,202.2L393.3,201.2L395.6,201.9L397.3,202.2L397.8,203.8L396.7,205.3L396.0,206.7L395.2,207.1L393.0,207.9L391.1,207.6Z" fill="#a6bddb"/>
<path d="M397.8,201.5L399.5,201.0L400.9,200.0L402.0,199.7L403.3,200.7L405.3,200.2L408.6,201.0L407.9,202.8L406.6,202.5L404.5,202.5L402.8,203.3L401.3,204.2L399.4,204.4L397.9,203.8L397.8,203.8L397.3,202.2Z" fill="#d0d1e6"/>
<path d="M396.7,205.3L397.8,203.8L397.9,203.8L399.4,204.4L401.3,204.2L402.8,203.3L404.5,202.5L406.6,202.5L407.9,202.8L409.6,203.8L407.9,205.1L407.2,206.3L406.5,207.9L404.7,208.6L403.3,208.5L401.9,209.1L400.7,209.5L398.6,208.9L397.1,207.6L396.0,206.7Z" fill="#a6bddb"/>
<path d="M391.1,210.2L391.2,209.9L391.3,209.8L391.2,209.7L391.3,209.7L391.2,209.7L391.0,209.4L390.6,208.4L391.1,207.6L393.0,207.9L395.2,207.1L396.0,206.7L397.1,207.6L395.3,208.4L395.4,209.4L394.6,210.2L392.7,210.2L391.1,210.3Z" fill="#a6bddb"/>
<path d="M399.7,216.6L396.4,215.3L394.6,213.5L393.0,210.9L391.8,212.0L391.1,210.3L392.7,210.2L394.6,210.2L395.4,209.4L395.3,208.4L397.1,207.6L398.6,208.9L400.7,209.5L401.9,209.1L402.5,210.7L402.4,211.7L400.3,211.2L398.0,210.9L395.7,210.9L395.8,212.2L396.7,213.5L398.9,215.3L399.9,216.6L401.7,217.6L401.9,218.0L401.8,218.1Z" fill="#a6bddb"/>
<path d="M401.7,217.6L399.9,216.6L398.9,215.3L396.7,213.5L395.8,212.2L395.7,210.9L398.0,210.9L400.3,211.2L402.4,211.7L403.1,211.7L402.7,213.3L403.9,214.3L403.1,215.3L402.1,216.1L401.9,217.6L401.8,217.8L401.7,217.8Z" fill="#d0d1e6"/>
<path d="M401.9,218.2L401.8,218.1L401.9,218.0L401.7,217.8L401.8,217.8L401.9,217.6L402.1,216.1L403.1,215.3L405.7,217.1L405.2,217.8L404.2,217.9L403.9,219.5Z" fill="#a6bddb"/>
<path d="M404.2,223.3L404.2,220.5L403.9,219.5L404.2,217.9L405.2,217.8L406.2,218.7L406.4,219.5L406.4,221.0L407.1,222.1L407.5,222.2L407.0,223.6L406.3,224.9L406.1,225.3L406.0,225.3Z" fill="#fff7fb"/>
<path d="M417.4,236.4L420.3,236.9L417.5,237.7L414.4,236.9L414.1,236.1ZM413.6,223.6L411.9,223.1L411.1,224.4L412.2,226.5L413.4,228.3L414.6,229.6L414.0,229.9L412.6,231.2L413.2,233.5L411.7,233.5L409.9,232.7L408.6,230.1L409.2,228.8L407.6,227.5L406.1,225.4L406.0,225.3L406.1,225.3L406.3,224.9L407.0,223.6L407.5,222.2L409.2,221.9L411.4,220.9L414.8,220.4L416.5,221.1L418.6,220.0L419.3,221.0L418.4,222.3L414.9,222.1Z" fill="#ece7f2"/>
<path d="M409.2,221.9L407.5,222.2L407.1,222.1L406.4,221.0L406.4,219.5L407.4,218.7L408.5,218.6L410.0,218.4L411.6,220.0L411.4,220.9Z" fill="#ece7f2"/>
<path d="M407.4,218.7L406.4,219.5L406.2,218.7L405.2,217.8L405.7,217.1L406.5,216.0L407.9,217.0L408.7,217.5L408.5,218.6Z" fill="#ece7f2"/>
<path d="M408.5,218.6L408.7,217.5L407.9,217.0L406.5,216.0L405.7,217.1L403.1,215.3L403.9,214.3L402.7,213.3L403.1,211.7L402.4,211.7L402.5,210.7L401.9,209.1L403.3,208.5L404.7,208.6L405.9,209.5L407.5,210.9L407.4,212.0L409.7,212.2L410.1,213.5L409.8,215.3L411.2,216.1L410.3,218.2L410.0,218.4Z" fill="#a6bddb"/>
<path d="M409.7,212.2L407.4,212.0L407.5,210.9L405.9,209.5L404.7,208.6L406.5,207.9L407.2,206.3L407.9,205.1L409.6,203.8L412.2,204.0L413.7,204.4L417.0,203.1L419.4,205.6L420.7,207.9L421.2,210.2L424.4,210.7L422.6,214.0L422.7,214.7L419.6,213.8L417.2,214.2L414.1,214.8L411.0,214.5L410.1,213.5Z" fill="#ece7f2"/>
<path d="M418.8,221.8L418.7,221.8L418.8,221.7ZM414.8,220.4L411.4,220.9L411.6,220.0L410.0,218.4L410.3,218.2L411.2,216.1L409.8,215.3L410.1,213.5L411.0,214.5L414.1,214.8L417.2,214.2L419.6,213.8L422.7,214.7L422.7,214.8L421.4,216.1L421.0,217.9L422.0,219.2L420.3,218.9L418.6,220.0L416.5,221.1Z" fill="#d0d1e6"/>
<path d="M420.7,207.9L419.4,205.6L417.0,203.1L419.3,202.6L422.4,204.0L423.6,206.3L424.8,207.9L423.0,207.9L422.5,209.1L421.9,210.2L421.2,210.2Z" fill="#d0d1e6"/>
<path d="M437.8,207.1L435.3,208.1L435.2,209.7L438.4,210.4L436.1,211.5L433.7,213.0L432.6,212.5L430.2,210.4L432.1,208.6L428.8,208.1L427.6,207.4L426.2,207.6L424.4,210.7L421.2,210.2L421.9,210.2L422.5,209.1L423.0,207.9L424.8,207.9L423.6,206.3L422.4,204.0L419.3,202.6L417.0,203.1L413.7,204.4L412.2,204.0L409.6,203.8L407.9,202.8L408.6,201.0L408.5,200.0L409.4,197.7L411.1,196.7L409.8,194.9L412.5,193.9L417.5,194.7L420.5,194.9L423.8,195.4L425.8,193.4L429.6,192.8L431.2,194.4L432.8,195.7L434.2,197.7L438.1,197.9L439.3,198.9L443.7,199.7L443.5,201.7L443.8,204.0L442.0,204.3L441.1,206.1Z" fill="#74a9cf"/>
<path d="M423.8,195.4L420.5,194.9L417.5,194.7L412.5,193.9L409.8,194.9L408.8,192.9L410.0,191.9L408.7,188.8L410.5,188.9L412.7,187.9L412.8,186.4L414.2,185.4L414.0,184.5L416.8,183.3L420.9,184.1L422.3,184.7L423.0,186.9L426.9,190.0L424.5,190.7L425.8,193.4Z" fill="#a6bddb"/>
<path d="M414.2,185.4L412.8,186.4L412.7,187.9L410.5,188.9L408.7,188.8L407.2,187.7L406.8,186.3L405.4,186.1L404.0,185.6L403.4,185.4L403.2,183.5L405.0,182.7L410.5,182.7L414.0,184.5Z" fill="#74a9cf"/>
<path d="M414.0,184.5L410.5,182.7L405.0,182.7L403.2,183.5L402.8,181.3L403.9,179.8L406.6,181.3L408.7,181.3L408.9,179.1L411.2,179.0L413.0,179.9L414.6,179.9L415.6,180.5L415.6,181.8L416.8,183.3Z" fill="#a6bddb"/>
<path d="M413.0,179.9L411.2,179.0L408.9,179.1L406.9,177.4L406.7,175.9L409.4,175.2L412.1,175.2L414.9,175.2L415.0,175.1L415.0,175.2L414.3,176.7L414.6,178.3L414.6,179.9Z" fill="#d0d1e6"/>
<path d="M406.1,162.7L407.5,162.0L405.1,160.4L403.9,158.8L403.2,156.6L400.2,154.3L397.6,153.1L398.7,152.6L400.8,153.9L403.2,153.7L405.2,154.1L406.3,153.2L406.3,151.7L409.3,150.8L411.5,151.7L411.5,153.1L411.2,154.3L414.0,156.1L413.1,157.9L415.3,160.6L415.3,162.7L417.0,164.1L419.5,167.1L417.2,170.2L414.1,172.8L409.1,173.5L405.5,174.2L402.5,172.8L401.8,170.4L401.6,167.4L403.1,165.7Z" fill="#a6bddb"/>
<path d="M398.8,179.1L398.6,180.5L397.6,181.5L397.2,180.5ZM399.5,165.3L396.2,167.4L394.3,169.3L394.5,172.3L397.1,173.5L398.0,175.2L394.8,177.4L394.4,180.0L393.6,183.2L390.7,183.5L390.5,184.9L388.9,184.9L389.0,185.1L388.0,185.2L387.5,183.2L386.3,181.3L385.4,179.6L383.9,176.4L384.4,176.4L384.8,174.7L386.0,173.5L385.5,171.6L386.5,170.9L385.2,170.0L384.6,165.7L385.7,164.6L388.0,164.1L387.2,163.2L388.4,161.6L389.8,159.3L391.2,156.6L393.6,154.3L396.8,154.6L397.6,153.1L400.2,154.3L403.2,156.6L403.9,158.8L405.1,160.4L401.4,161.1L400.9,163.4Z" fill="#d0d1e6"/>
<path d="M376.2,178.8L373.5,176.9L372.6,174.0L372.1,171.6L372.2,169.3L374.7,167.4L378.2,165.7L380.7,164.6L383.2,162.3L384.7,160.0L386.2,157.7L387.6,155.5L390.0,154.1L392.2,152.1L394.6,151.0L398.6,150.4L401.6,149.3L405.3,148.6L408.9,148.9L411.6,149.5L414.3,150.4L412.9,151.5L414.4,151.9L412.3,152.3L411.5,153.1L411.5,151.7L409.3,150.8L406.3,151.7L406.3,153.2L405.2,154.1L403.2,153.7L400.8,153.9L398.7,152.6L397.6,153.1L396.8,154.6L393.6,154.3L391.2,156.6L389.8,159.3L388.4,161.6L387.2,163.2L388.0,164.1L385.7,164.6L384.6,165.7L385.2,170.0L386.5,170.9L385.5,171.6L386.0,173.5L384.8,174.7L384.4,176.4L383.9,176.4L382.7,175.2L380.7,176.7L378.0,178.6ZM399.6,135.3L396.8,135.9L394.4,135.3L394.0,134.0L397.8,134.2ZM387.4,130.8L390.4,131.3L393.5,131.9L390.3,133.6L392.5,133.6L394.7,133.6L391.3,134.9L388.8,137.1L385.6,136.3L383.1,134.5L379.9,133.0L378.9,131.3L381.0,131.2L383.1,131.0L385.3,130.9ZM401.7,130.6L399.8,131.3L397.8,131.9L394.9,131.7L391.9,131.5L389.4,130.3L391.9,130.1L394.3,129.9L398.0,130.3Z" fill="#d0d1e6"/>
<path d="M441.1,234.8L441.3,233.0L438.7,233.0L436.7,234.0L433.5,234.6L429.4,232.7L427.4,234.3L424.2,232.7L422.4,232.2L421.4,228.6L419.6,226.2L418.8,224.4L418.8,224.1L418.2,222.6L418.4,222.3L418.7,221.8L418.8,221.8L418.8,221.7L419.3,221.0L418.6,220.0L420.3,218.9L422.0,219.2L422.6,220.5L424.6,221.3L429.0,221.3L433.2,219.2L436.8,219.2L440.2,221.0L444.6,221.8L447.8,221.8L450.7,220.5L452.8,220.5L455.1,221.5L455.7,222.6L455.8,224.1L458.6,225.3L457.1,226.0L458.1,228.6L459.7,231.8L455.8,231.4L454.4,231.9L449.5,232.7L445.2,232.7L442.4,233.0L442.3,234.3L441.6,235.1L440.9,235.1Z" fill="#fff7fb"/>
<path d="M452.8,220.5L450.7,220.5L450.8,218.7L448.9,216.6L446.6,215.6L446.5,215.5L446.6,215.3L450.9,216.1L455.0,217.4L457.3,217.4L458.8,217.9L461.0,219.5L461.8,221.0L458.8,220.8L458.2,221.0L455.1,221.5Z" fill="#ece7f2"/>
<path d="M455.7,222.6L455.1,221.5L458.2,221.0L459.5,222.3L460.7,223.9L462.3,225.7L462.7,227.3L461.7,227.4L459.9,225.7L458.6,225.2L455.8,224.1Z" fill="#fff7fb"/>
<path d="M460.2,227.0L458.6,225.3L458.6,225.2L459.9,225.7L461.7,227.4ZM459.5,222.3L458.2,221.0L458.8,220.8L461.8,221.0L461.0,219.5L463.1,221.0L464.4,221.3L465.5,219.7L467.3,221.8L469.9,223.3L468.3,223.9L468.5,227.0L468.0,228.6L465.8,227.5L466.2,226.0L465.0,225.2L462.7,227.3L462.3,225.7L460.7,223.9Z" fill="#fff7fb"/>
<path d="M493.2,262.0L491.3,261.0L490.1,258.1L487.3,259.1L484.0,259.4L480.3,257.1L478.0,256.0L476.1,253.4L473.9,250.2L471.6,249.5L470.9,250.8L469.3,249.2L468.5,247.9L467.8,244.8L464.4,242.1L462.6,240.3L462.5,238.5L463.6,235.6L461.5,234.8L459.7,231.8L459.7,231.8L458.1,228.6L457.1,226.0L458.3,225.4L458.8,225.6L460.2,227.0L461.7,227.4L462.7,227.3L463.1,227.0L468.0,228.6L469.7,230.9L473.3,232.7L477.5,232.5L479.5,231.4L479.4,231.3L481.1,231.0L483.8,229.3L485.9,229.1L488.8,230.6L490.8,230.9L493.7,233.3L495.3,233.5L496.0,235.9L495.4,239.3L495.5,240.8L496.5,241.4L495.9,242.9L497.4,246.6L499.3,246.8L499.8,248.4L498.1,250.9L501.0,254.4L503.1,255.1L503.5,257.8L504.6,257.8L504.5,259.1L502.0,259.9L501.7,261.5L501.5,263.3L497.8,262.8ZM458.0,231.8L458.0,231.6L459.7,231.8Z" fill="#ece7f2"/>
<path d="M455.8,231.4L458.0,231.6L458.0,231.8L459.7,231.8L459.7,231.8L461.5,234.8L463.6,235.6L462.5,238.5L462.6,240.3L464.4,242.1L467.8,244.8L468.5,247.9L469.3,249.2L470.9,250.8L469.5,250.6L468.8,250.2L467.3,250.8L466.6,252.9L462.4,252.6L455.9,247.6L452.1,245.5L449.3,244.9L448.1,241.6L452.5,239.0L453.0,235.9L452.5,233.8L454.4,231.9Z" fill="#ece7f2"/>
<path d="M440.7,235.3L440.9,235.1L441.6,235.1L442.3,234.3L442.4,233.0L445.2,232.7L449.5,232.7L454.4,231.9L452.5,233.8L453.0,235.9L452.8,237.1L448.1,241.6L444.0,244.5L441.9,243.4L441.5,241.9L443.0,239.5L442.2,238.5L441.6,238.5Z" fill="#fff7fb"/>
<path d="M440.7,240.3L441.6,238.5L442.2,238.5L443.0,239.5L441.5,241.9L440.0,242.4Z" fill="#fff7fb"/>
<path d="M438.6,247.1L439.5,245.3L440.0,242.4L441.5,241.9L441.9,243.4L441.2,244.2L441.5,246.6L441.3,247.9L440.6,251.7L440.6,251.8Z" fill="#ece7f2"/>
<path d="M441.3,247.9L441.5,246.6L441.2,244.2L441.9,243.4L444.0,244.5L448.1,241.6L449.3,244.9L444.7,246.6L447.2,249.2L446.2,250.5L444.6,250.9L443.3,252.6L440.7,252.2L440.6,251.7Z" fill="#fff7fb"/>
<path d="M467.3,250.8L468.8,250.2L469.5,250.6L469.9,252.3L470.9,254.4L469.3,254.3L468.7,253.1L466.6,252.9Z" fill="#fff7fb"/>
<path d="M477.1,262.3L477.8,260.7L479.0,262.8L478.7,264.6L477.3,264.1Z" fill="#fff7fb"/>
<path d="M479.3,265.7L481.8,269.0L487.6,269.6L488.9,271.4L487.8,276.7L484.6,278.0L481.2,279.3L477.9,279.8L474.5,280.3L472.8,281.4L470.2,284.5L468.6,283.9L466.1,283.5L463.3,283.5L461.9,283.2L461.6,285.3L460.7,286.1L458.7,283.2L456.2,279.3L451.7,272.7L449.8,267.5L446.7,263.6L444.9,261.0L441.6,255.7L440.7,252.2L440.7,252.2L443.3,252.6L444.6,250.9L446.2,250.5L447.2,249.2L444.7,246.6L449.3,244.9L452.1,245.5L455.9,247.6L462.4,252.6L466.6,252.9L468.7,253.1L469.3,254.3L470.9,254.4L472.5,257.1L475.0,259.1L475.7,262.0L477.3,264.1L478.7,264.6L479.2,265.7Z" fill="#fff7fb"/>
<path d="M481.9,288.2L476.3,290.5L473.0,292.4L469.6,293.9L466.2,295.5L462.8,295.8L462.0,294.2L461.4,289.8L460.7,286.1L461.6,285.3L461.9,283.2L463.3,283.5L466.1,283.5L468.6,283.9L470.2,284.5L472.8,281.4L474.5,280.3L477.9,279.8L481.2,279.3L484.2,285.6Z" fill="#fff7fb"/>
<path d="M494.9,267.3L498.1,270.1L495.9,275.4L494.4,279.3L492.7,279.8L489.5,282.7L486.2,284.5L484.2,285.6L481.2,279.3L484.6,278.0L487.8,276.7L488.9,271.4L487.7,269.6L488.2,267.3L488.7,265.7L489.2,264.1L489.9,263.9L490.0,263.8L490.9,265.4ZM489.6,261.9L488.8,261.6L488.8,260.8L489.4,259.9Z" fill="#fff7fb"/>
<path d="M488.6,261.1L488.8,261.6L489.6,261.9L489.8,263.6L489.9,263.7L489.9,263.9L489.2,264.1L488.7,265.7L488.2,267.3L487.7,269.6L487.6,269.6L481.8,269.0L479.3,265.7L481.2,265.7L484.6,265.9L485.9,264.9L487.3,262.8Z" fill="#fff7fb"/>
<path d="M499.8,248.4L499.3,246.8L497.4,246.6L495.9,242.9L496.5,241.4L495.5,240.8L495.4,239.3L496.0,235.9L498.6,236.6L500.0,235.3L502.8,234.0L504.6,230.9L506.5,231.3L509.3,231.7L513.0,231.7L514.2,230.8L514.3,229.3L516.3,228.9L517.0,229.9L517.6,233.0L519.8,232.2L522.1,231.2L524.6,231.6L524.0,232.1L519.8,232.7L518.1,233.8L517.5,234.8L518.9,236.9L518.4,239.5L516.1,240.0L516.4,242.4L515.5,244.0L515.8,245.5L514.1,245.9L512.8,247.0L510.8,247.1L509.9,248.2L510.1,250.8L505.9,251.8L501.9,252.1L498.1,250.9Z" fill="#fff7fb"/>
<path d="M515.1,266.2L513.7,264.1L512.4,262.5L508.0,263.1L503.5,263.1L501.5,263.3L501.7,261.5L502.0,259.9L504.5,259.1L504.6,257.8L503.5,257.8L503.1,255.1L501.0,254.4L498.1,250.9L501.9,252.1L505.9,251.8L510.1,250.8L509.9,248.2L510.8,247.1L512.8,247.0L514.1,245.9L515.8,245.5L515.5,244.0L516.4,242.4L516.1,240.0L518.4,239.5L518.9,236.9L517.5,234.8L518.1,233.8L519.7,232.8L524.0,232.1L526.1,232.9L528.0,235.1L532.2,236.1L530.8,237.4L527.8,238.6L524.4,238.2L524.7,240.0L526.2,242.7L527.0,243.3L529.0,244.5L527.7,247.6L527.0,250.5L524.1,255.7L520.1,255.7L518.7,257.8L520.3,259.7L520.4,261.8L522.9,265.2L517.9,265.4L516.8,267.0Z" fill="#ece7f2"/>
<path d="M562.2,272.2L560.0,273.0L559.9,275.4L558.9,276.9L556.2,278.5L553.3,282.4L550.9,285.6L548.5,287.1L546.6,288.4L546.5,292.4L547.2,294.7L546.5,297.6L546.5,302.1L544.8,304.7L543.1,305.7L541.5,307.8L539.1,305.5L538.3,302.8L536.4,298.1L534.6,295.0L533.1,291.1L531.7,288.4L530.2,284.5L528.5,279.3L527.9,275.4L527.8,272.7L526.6,272.0L526.6,274.1L524.0,274.8L521.6,274.1L519.0,270.9L521.7,269.1L518.8,269.3L517.5,267.5L516.8,267.0L517.9,265.4L522.9,265.2L520.4,261.8L520.3,259.7L518.7,257.8L520.1,255.7L524.1,255.7L527.0,250.5L527.7,247.6L529.0,244.5L527.0,243.3L526.2,242.7L524.7,240.0L524.4,238.2L527.8,238.6L530.8,237.4L532.2,236.1L533.9,238.5L535.4,239.3L535.4,241.1L537.2,244.0L536.4,245.3L536.7,246.6L538.8,247.9L542.7,250.0L541.6,251.6L541.3,253.6L544.1,255.0L547.8,256.8L549.2,257.3L552.2,257.6L555.2,259.4L558.0,259.9L560.4,259.9L559.9,257.8L559.8,256.0L561.8,257.6L561.8,258.8L564.1,259.1L567.2,258.9L569.2,258.8L568.8,257.1L567.7,256.3L569.9,256.0L571.9,253.9L575.0,252.9L576.9,252.3L580.1,255.1L579.7,256.5L578.1,257.6L576.2,259.1L575.6,263.1L575.9,264.4L573.2,266.2L573.9,268.8L573.7,270.9L572.5,271.5L571.3,268.0L570.3,267.0L568.5,267.3L568.5,265.9L570.6,265.4L571.0,263.9L569.8,263.1L564.8,262.8L564.6,261.0L561.2,259.5L560.7,261.5L562.8,263.1L561.0,264.4L562.7,265.4L563.3,268.3L564.4,271.2L564.6,272.0Z" fill="#d0d1e6"/>
<path d="M561.0,260.5L561.0,260.5L561.0,260.4ZM560.4,259.9L558.0,259.9L555.2,259.4L552.2,257.6L549.2,257.3L547.8,256.8L544.1,255.0L541.3,253.6L541.6,251.6L542.7,250.0L543.6,249.5L545.3,250.2L547.8,251.6L550.0,252.3L552.8,254.2L554.9,255.7L556.9,255.7L559.8,256.0L559.9,257.8Z" fill="#a6bddb"/>
<path d="M569.2,258.8L567.2,258.9L564.1,259.1L561.8,258.8L561.8,257.6L562.7,255.5L564.7,255.5L566.8,255.7L567.7,256.3L569.2,258.6Z" fill="#fff7fb"/>
<path d="M570.5,270.7L567.7,270.1L566.6,271.4L564.6,272.0L564.4,271.2L563.3,268.3L562.7,265.4L561.0,264.4L562.8,263.1L560.7,261.5L561.0,260.5L561.0,260.5L561.0,260.4L561.2,259.5L564.6,261.0L564.8,262.8L569.8,263.1L571.0,263.9L570.6,265.4L568.5,265.9L568.5,267.3L570.3,267.0L571.3,268.0L572.5,271.5L572.8,273.3L572.2,274.6L571.3,272.7ZM569.0,258.4L569.1,258.4L569.2,258.6Z" fill="#fff7fb"/>
<path d="M589.4,298.1L588.8,293.7L586.8,289.8L585.8,285.8L583.8,284.5L582.2,285.8L580.8,287.7L578.5,287.1L578.4,283.2L577.3,279.8L575.3,277.2L573.5,275.4L572.2,274.6L572.8,273.3L572.5,271.5L573.7,270.9L573.9,268.8L573.2,266.2L575.9,264.4L575.6,263.1L576.2,259.1L578.1,257.6L579.7,256.5L580.1,255.1L582.0,256.8L583.5,256.8L584.5,261.2L582.6,264.1L583.0,266.5L586.2,268.3L587.7,269.1L587.3,271.2L589.8,272.7L592.0,272.6L591.0,274.3L590.1,275.8L588.7,275.8L587.6,277.3L585.6,277.5L584.7,280.6L585.9,282.7L588.2,286.1L587.6,289.2L588.8,291.3L590.4,294.5L590.8,298.4L590.2,301.8L589.8,302.8Z" fill="#ece7f2"/>
<path d="M597.1,296.3L594.7,295.8L594.3,293.7L592.3,294.2L592.4,297.6L591.3,301.5L591.6,304.7L593.8,306.8L594.7,309.9L597.7,311.5L598.5,312.8L597.8,313.8L596.2,314.1L595.7,312.8L593.8,312.0L592.6,310.2L589.9,308.1L589.3,305.5L589.8,302.8L590.2,301.8L590.8,298.4L590.4,294.5L588.8,291.3L587.6,289.2L588.2,286.1L585.9,282.7L584.7,280.6L585.6,277.5L587.6,277.3L588.7,275.8L590.1,275.8L591.2,276.3L591.0,277.5L592.9,277.9L593.2,279.8L593.2,283.0L595.5,281.4L597.9,281.0L600.0,281.1L601.9,283.5L602.2,285.8L604.5,289.0L603.9,291.5L598.9,291.6L597.9,293.4L598.0,296.0L599.3,298.4Z" fill="#d0d1e6"/>
<path d="M602.2,285.8L601.9,283.5L600.0,281.1L597.9,281.0L595.5,281.4L593.2,283.0L593.2,279.8L592.9,277.9L591.0,277.5L591.2,276.3L590.1,275.8L591.0,274.3L592.0,272.6L593.4,273.7L593.2,270.9L593.9,270.4L595.2,272.2L596.9,274.6L600.2,275.1L599.3,278.0L602.4,280.3L606.0,284.5L608.4,287.1L609.0,289.8L609.2,290.5L606.8,291.1L605.8,292.4L603.9,291.5L604.5,289.0ZM592.0,272.6L592.0,272.6L592.0,272.6Z" fill="#fff7fb"/>
<path d="M599.6,299.2L599.3,298.4L598.0,296.0L597.9,293.4L598.9,291.6L603.9,291.5L605.8,292.4L606.8,291.1L609.2,290.5L609.4,293.7L609.9,296.3L607.3,297.9L606.3,298.7L607.1,300.2L604.6,300.5L603.3,301.8L601.0,301.3ZM609.1,289.8L609.2,290.5L609.0,289.8Z" fill="#fff7fb"/>
<path d="M604.9,274.6L603.4,278.0L605.6,281.9L608.3,285.0L610.4,287.1L612.6,291.1L613.7,295.5L613.8,298.4L611.3,300.7L609.1,301.8L608.6,304.1L605.3,306.2L604.1,303.4L603.3,301.8L604.6,300.5L607.1,300.2L606.3,298.7L607.3,297.9L609.9,296.3L609.4,293.7L609.2,290.5L609.1,289.8L609.0,289.8L608.4,287.1L606.0,284.5L602.4,280.3L599.3,278.0L600.2,275.1L596.9,274.6L595.2,272.2L593.9,270.4L595.8,270.1L598.0,269.9L600.6,268.0L603.7,269.1L604.3,271.4L606.1,272.4L607.5,272.7Z" fill="#ece7f2"/>
<path d="M597.0,321.2L595.3,318.0L594.4,314.6L593.8,312.0L595.7,312.8L596.2,314.1L597.8,313.8L598.5,312.8L601.7,316.4L602.1,321.2L603.8,325.3L602.2,325.6L599.8,323.8ZM624.0,320.6L626.7,317.1L627.8,318.5L629.3,317.7L629.1,316.0L629.6,315.9L632.1,310.9L634.0,312.0L638.1,315.4L635.9,317.7L635.7,318.2L634.5,318.1L630.8,317.7L629.7,317.7L630.0,320.1L628.7,321.7L627.8,325.1L625.7,325.6L622.3,325.3L621.4,326.4L617.9,326.6L616.3,324.3L616.2,323.8L620.1,321.7Z" fill="#fff7fb"/>
<path d="M540.3,200.0L542.4,197.7L547.5,196.7L552.5,198.7L558.5,199.3L559.5,197.4L557.4,194.9L558.3,193.3L562.2,194.3L566.1,195.4L567.3,197.2L570.5,198.2L576.1,197.8L581.6,200.3L586.3,200.8L590.0,200.0L591.8,197.9L597.3,199.1L597.9,203.0L603.9,203.8L608.8,207.1L604.1,207.9L601.9,210.2L599.3,211.7L596.6,214.8L595.1,215.6L593.1,217.9L589.1,218.2L584.8,220.2L580.0,218.9L575.2,217.6L570.9,217.5L566.6,217.4L565.4,217.4L561.4,213.3L556.7,211.5L551.0,210.9L548.6,206.3L543.4,203.5L540.1,200.8Z" fill="#d0d1e6"/>
<path d="M473.3,217.9L470.4,216.1L469.1,213.3L469.3,211.5L472.6,210.7L472.0,207.1L469.4,206.3L467.3,206.3L464.7,207.9L464.1,208.0L464.1,208.0L462.3,207.4L458.7,204.3L457.3,202.8L457.8,200.7L457.3,200.5L457.7,197.9L460.8,198.9L460.1,197.2L464.1,194.7L467.2,194.9L471.6,196.4L474.2,197.2L477.5,196.2L479.7,196.2L482.5,196.7L485.7,196.7L483.4,193.7L484.0,191.2L481.7,188.7L485.4,188.2L489.1,187.7L491.8,186.9L494.6,186.2L500.9,188.2L499.3,185.4L506.0,188.7L508.8,188.4L511.6,188.2L515.4,190.4L522.7,196.7L525.5,196.7L529.1,196.2L534.4,199.7L537.1,199.2L539.2,201.0L536.9,203.0L537.8,206.1L532.6,205.8L532.9,210.2L528.9,211.5L532.2,216.1L531.8,218.7L530.1,217.9L527.6,216.9L522.4,216.9L519.4,216.1L517.0,216.6L517.6,218.2L513.7,217.1L512.2,218.6L511.1,219.7L509.1,220.8L508.0,222.8L504.2,221.3L501.8,218.2L501.3,216.6L498.5,214.8L492.6,215.3L489.8,213.0L484.0,210.0L479.0,211.5L480.3,216.2L481.5,221.0L480.4,221.0L478.3,219.1L474.6,218.9L474.1,219.7Z" fill="#a6bddb"/>
<path d="M506.5,231.3L503.9,229.1L500.4,227.1L496.1,224.4L494.1,221.5L490.1,220.8L489.3,218.7L485.8,217.4L483.9,218.9L483.6,221.1L481.5,221.0L480.3,216.2L479.0,211.5L484.0,210.0L489.8,213.0L492.6,215.3L498.5,214.8L501.3,216.6L501.8,218.2L504.2,221.3L508.0,222.8L509.1,220.8L511.1,219.7L512.2,218.6L513.6,220.2L515.8,221.3L518.1,222.3L516.1,223.6L513.2,223.9L512.2,221.8L510.0,222.3L510.5,223.9L509.2,225.6L506.9,225.7L507.9,227.0L510.0,229.1L509.4,229.6L509.3,231.7Z" fill="#ece7f2"/>
<path d="M502.8,234.0L500.0,235.3L498.6,236.6L496.0,235.9L495.3,233.5L493.7,233.3L490.8,230.9L488.8,230.6L485.9,229.1L483.8,229.3L481.1,231.0L479.4,231.3L478.2,227.0L476.2,225.7L475.0,222.3L477.0,221.8L478.8,221.3L476.4,219.2L474.3,220.2L474.1,219.7L474.6,218.9L478.3,219.1L480.4,221.0L481.5,221.0L483.6,221.1L483.9,218.9L485.8,217.4L489.3,218.7L490.1,220.8L494.1,221.5L496.1,224.4L500.4,227.1L503.9,229.1L506.5,231.3L504.6,230.9Z" fill="#ece7f2"/>
<path d="M523.5,232.2L523.5,232.2L519.7,232.8L519.8,232.7ZM519.8,232.2L517.6,233.0L517.0,229.9L516.3,228.9L514.3,229.3L514.2,230.8L513.0,231.7L509.3,231.7L509.4,229.6L510.0,229.1L507.9,227.0L506.9,225.7L509.2,225.6L510.5,223.9L510.0,222.3L512.2,221.8L513.2,223.9L513.2,224.4L510.8,224.4L511.0,225.7L513.5,225.4L514.6,225.7L517.5,226.1L520.3,225.8L521.6,228.3L523.6,228.6L524.6,231.6L522.1,231.2Z" fill="#fff7fb"/>
<path d="M517.5,226.1L514.6,225.7L513.5,225.4L511.7,225.6L510.8,224.6L510.8,224.4L513.2,224.4L513.2,223.9L516.1,223.6L518.1,222.3L515.8,221.3L513.6,220.2L512.2,218.6L513.7,217.1L517.6,218.2L517.0,216.6L519.4,216.1L522.4,216.9L527.6,216.9L530.1,217.9L531.8,218.7L528.9,220.5L525.9,221.8L524.5,223.3L521.9,223.1L520.3,224.9L520.3,225.8Z" fill="#ece7f2"/>
<path d="M637.8,221.8L636.3,224.4L635.2,225.7L638.3,228.0L635.9,228.8L635.8,230.4L632.7,230.1L631.0,228.8L630.3,225.7L628.0,224.4L628.6,223.1L630.0,221.8L630.8,219.7L633.9,220.8L633.4,219.2L635.0,218.7L635.4,216.9L637.6,218.2L638.0,218.4Z" fill="#ece7f2"/>
<path d="M644.0,234.8L644.3,236.9L642.1,238.0L639.3,239.0L637.6,236.1L636.6,233.0L635.8,230.4L635.9,228.8L638.3,228.0L642.3,232.2Z" fill="#3690c0"/>
<path d="M614.7,276.7L615.2,278.0L613.4,280.9L611.2,281.1L610.1,278.5L611.6,276.7ZM569.0,258.4L567.7,256.3L568.8,257.1L569.1,258.4ZM633.4,219.2L633.9,220.8L630.8,219.7L630.0,221.8L628.6,223.1L628.0,224.4L625.5,225.4L623.2,227.3L622.2,223.9L619.5,222.1L617.8,224.9L615.3,226.5L615.4,228.0L618.7,230.1L620.3,231.7L622.8,230.1L627.2,231.2L625.0,233.5L624.0,234.8L622.9,237.4L626.2,240.0L628.5,243.2L631.7,246.1L632.7,248.2L631.0,249.2L633.3,250.8L634.0,254.4L632.5,256.3L631.3,260.2L630.0,263.9L628.7,265.2L626.3,268.0L621.7,269.9L620.7,270.7L618.6,271.4L615.4,272.7L613.3,273.5L613.0,275.9L611.6,273.0L608.6,272.5L607.5,272.7L606.1,272.4L604.3,271.4L603.7,269.1L600.6,268.0L598.0,269.9L595.8,270.1L593.9,270.4L593.2,270.9L593.4,273.7L592.0,272.6L592.0,272.6L592.0,272.6L592.0,272.6L592.0,272.6L589.8,272.7L587.3,271.2L587.7,269.1L586.2,268.3L583.0,266.5L582.6,264.1L584.5,261.2L583.5,256.8L582.0,256.8L580.1,255.1L576.9,252.3L575.0,252.9L571.9,253.9L569.9,256.0L567.7,256.3L566.8,255.7L564.7,255.5L562.7,255.5L561.8,257.6L559.8,256.0L556.9,255.7L554.9,255.7L552.8,254.2L550.0,252.3L547.8,251.6L545.3,250.2L543.6,249.5L542.7,250.0L538.8,247.9L536.7,246.6L536.4,245.3L537.2,244.0L535.4,241.1L535.4,239.3L533.9,238.5L532.2,236.1L528.0,235.1L526.1,232.9L524.0,232.1L524.6,231.6L523.6,228.6L521.6,228.3L520.3,225.8L520.3,224.9L521.9,223.1L524.5,223.3L525.9,221.8L528.9,220.5L531.8,218.7L532.2,216.1L528.9,211.5L532.9,210.2L532.6,205.8L537.8,206.1L536.9,203.0L539.2,201.0L540.1,200.8L543.4,203.5L548.6,206.3L551.0,210.9L556.7,211.5L561.4,213.3L565.4,217.4L566.6,217.4L570.9,217.5L575.2,217.6L580.0,218.9L584.8,220.2L589.1,218.2L593.1,217.9L595.1,215.6L596.6,214.8L599.3,211.7L601.9,210.2L604.1,207.9L608.8,207.1L603.9,203.8L597.9,203.0L597.3,199.1L600.1,200.0L601.4,197.7L601.4,193.7L599.3,191.9L600.8,190.4L603.8,189.8L606.8,190.7L610.7,191.9L613.8,194.7L618.4,198.2L622.8,200.2L626.9,201.5L629.8,204.5L632.9,204.5L636.3,203.0L637.9,205.3L638.5,209.9L638.5,211.2L635.5,210.7L634.5,211.7L636.2,213.8L637.4,215.3L637.9,216.9L637.6,218.2L635.4,216.9L635.0,218.7ZM524.0,232.1L523.5,232.2L523.5,232.2Z" fill="#ece7f2"/>
<path d="M455.8,224.1L456.5,224.4L456.4,224.4ZM407.2,187.7L404.1,187.6L401.0,187.5L401.6,186.4L403.4,185.4L404.0,185.6L405.4,186.1L406.8,186.3ZM68.3,159.7L62.0,161.6L58.2,163.6L54.8,162.9L55.6,161.1L52.9,160.0L50.4,161.1L47.0,162.3L53.7,157.7L60.6,153.2L62.4,154.8L63.9,156.6L65.9,157.2L68.0,157.9ZM69.5,147.8L72.5,148.4L70.6,149.1L67.3,149.1ZM456.5,148.9L454.5,149.7L451.0,149.3L447.5,148.9L446.7,147.4L448.8,145.0L451.4,144.0L452.9,145.2ZM462.8,136.7L465.3,137.0L467.8,137.3L466.2,138.1L464.5,138.8L461.1,139.4L457.6,140.1L455.4,141.5L454.0,142.9L451.3,143.8L448.9,143.8L447.6,142.9L449.3,140.5L452.3,139.0L455.0,138.4L457.6,137.9L460.2,137.3ZM430.2,130.3L427.0,129.8L429.0,129.5L430.9,129.3L433.8,129.3L436.7,129.4L435.8,130.1L433.0,130.2ZM650.2,198.7L654.8,201.2L652.4,202.0L655.6,206.3L657.5,207.6L656.4,208.9L653.5,206.3L650.7,202.5L648.2,198.7L643.3,193.7L640.7,190.4L638.6,187.9L642.4,189.9L646.3,193.7ZM486.0,156.6L488.7,158.1L489.5,156.6L488.9,154.3L485.1,151.0L482.9,146.7L483.2,145.0L486.0,145.6L488.9,146.1L493.4,146.7L490.9,143.6L494.3,142.5L497.7,141.5L498.0,140.1L500.5,139.5L503.1,139.0L505.6,138.4L508.3,138.1L511.0,137.8L513.6,137.5L516.0,136.3L518.3,135.1L521.4,135.8L524.5,136.5L528.4,137.1L532.3,137.8L536.2,138.4L540.8,141.5L538.7,142.0L536.5,142.5L539.4,142.9L542.2,143.3L545.9,143.8L549.6,144.2L553.3,144.6L555.8,144.1L558.4,143.6L561.5,143.6L564.7,143.6L574.1,147.8L578.4,149.3L579.8,147.8L583.2,147.9L586.6,148.0L587.5,146.8L588.3,145.7L589.1,145.0L593.8,145.6L598.6,146.1L603.1,146.9L607.5,147.8L610.9,148.4L614.3,149.1L618.5,149.7L622.8,150.4L627.1,151.0L631.9,152.1L634.7,151.7L637.8,151.6L641.0,151.5L644.8,152.3L648.6,153.2L645.8,150.8L650.9,151.1L656.0,151.5L660.7,152.3L665.4,153.2L672.3,157.7L679.0,162.3L678.1,163.4L675.6,162.9L682.9,166.2L686.5,168.5L681.9,168.1L680.3,168.9L678.6,169.7L677.4,171.6L677.7,174.0L674.0,173.6L670.4,173.3L667.2,174.5L667.6,176.4L669.5,178.8L668.2,179.3L674.4,183.2L675.2,186.2L674.3,188.7L674.9,191.2L675.9,193.7L675.1,196.2L670.2,192.4L664.5,187.4L660.9,183.7L659.0,179.6L660.6,177.6L661.1,174.0L660.5,170.4L658.4,168.1L657.7,170.4L653.2,169.7L657.0,172.6L652.5,171.5L648.1,170.4L649.1,175.2L646.2,176.4L642.4,175.0L638.0,175.7L633.1,175.4L630.5,175.7L628.0,175.9L626.7,179.3L625.9,182.5L624.3,186.7L630.6,188.7L632.9,189.2L634.6,188.2L639.7,190.7L642.1,193.2L642.8,196.2L646.7,201.2L647.4,206.3L647.1,208.9L645.7,211.5L645.1,215.3L642.1,217.1L639.3,216.4L638.0,218.4L637.6,218.2L637.9,216.9L637.4,215.3L636.2,213.8L634.5,211.7L635.5,210.7L638.5,211.2L638.5,209.9L637.9,205.3L636.3,203.0L632.9,204.5L629.8,204.5L626.9,201.5L622.8,200.2L618.4,198.2L613.8,194.7L610.7,191.9L606.8,190.7L603.8,189.8L600.8,190.4L599.3,191.9L601.4,193.7L601.4,197.7L600.1,200.0L597.3,199.1L591.8,197.9L590.0,200.0L586.3,200.8L581.6,200.3L576.1,197.8L570.5,198.2L567.3,197.2L566.1,195.4L562.2,194.3L558.3,193.3L557.4,194.9L559.5,197.4L558.5,199.3L552.5,198.7L547.5,196.7L542.4,197.7L540.3,200.0L540.1,200.8L539.2,201.0L537.1,199.2L534.4,199.7L529.1,196.2L525.5,196.7L522.7,196.7L515.4,190.4L511.6,188.2L508.8,188.4L506.0,188.7L499.3,185.4L500.9,188.2L494.6,186.2L491.8,186.9L489.1,187.7L485.4,188.2L481.7,188.7L484.0,191.2L483.4,193.7L485.7,196.7L482.5,196.7L479.7,196.2L477.5,196.2L474.2,197.2L471.6,196.4L467.2,194.9L464.1,194.7L460.1,197.2L460.8,198.9L457.7,197.9L457.3,200.5L457.8,200.7L457.3,202.8L458.7,204.3L462.3,207.4L464.1,208.0L464.1,208.0L462.7,208.4L461.1,210.2L460.0,212.7L462.3,215.3L462.7,217.1L465.3,219.5L465.5,219.7L464.4,221.3L463.1,221.0L461.0,219.5L458.8,217.9L457.3,217.4L455.0,217.4L450.9,216.1L446.6,215.3L446.5,215.5L443.1,213.3L440.8,212.2L439.1,210.9L441.2,208.9L441.5,206.8L443.1,205.8L441.1,206.1L442.0,204.3L443.8,204.0L443.5,201.7L443.7,199.7L439.3,198.9L438.1,197.9L434.2,197.7L432.8,195.7L431.2,194.4L429.6,192.8L425.8,193.4L424.5,190.7L426.9,190.0L423.0,186.9L422.3,184.7L420.9,184.1L416.8,183.3L415.6,181.8L415.6,180.5L414.6,179.9L414.6,178.3L414.3,176.7L415.0,175.2L415.0,175.1L416.5,174.0L418.8,174.2L415.4,172.8L414.1,172.8L417.2,170.2L419.5,167.1L417.0,164.1L415.3,162.7L415.3,160.6L413.1,157.9L414.0,156.1L411.2,154.3L411.5,153.1L412.3,152.3L414.4,151.9L418.1,152.1L420.7,152.5L423.3,152.8L426.2,153.9L429.1,155.0L433.3,157.2L434.2,158.8L432.3,159.5L428.9,159.7L426.2,159.4L423.5,159.1L419.9,158.4L423.8,161.1L424.4,163.4L427.8,164.6L429.7,165.0L430.1,163.4L427.1,162.3L430.3,162.7L433.5,163.2L432.9,161.1L435.6,159.1L439.2,159.3L438.4,157.2L437.0,154.3L440.9,154.8L442.9,157.7L444.7,157.9L444.9,156.3L448.0,155.5L450.4,155.1L452.8,154.8L454.5,154.8L455.9,154.3L459.2,154.1L462.1,153.2L463.7,151.5L465.2,154.3L467.7,153.4L470.2,152.6L473.0,153.1L475.8,153.7L479.0,154.8L479.2,153.7L474.8,151.9L472.9,148.9L473.3,145.7L474.9,144.6L479.2,145.0L482.4,148.9L484.0,153.2ZM655.8,148.6L656.5,147.8L658.7,149.1L657.4,149.3ZM584.2,142.7L587.4,143.0L590.6,143.3L587.6,144.0L584.9,143.8ZM595.5,140.9L592.2,140.8L589.0,140.7L585.8,140.7L583.0,140.9L580.2,141.1L575.2,139.8L576.1,138.4L579.6,138.7L583.1,139.0L586.6,139.2L591.0,139.5L595.4,139.8ZM518.0,133.8L514.8,134.2L511.6,134.5L506.7,133.0L504.2,132.8L501.8,132.7L502.5,131.5L503.3,130.4L506.6,130.8L510.4,131.4L514.2,132.1ZM499.0,130.4L496.5,130.8L493.0,129.1L495.6,128.9L498.2,128.8L502.1,129.6L500.6,130.0Z" fill="#74a9cf"/>
<path d="M352.6,197.7L354.4,195.9L356.6,195.7L356.1,194.9L352.7,194.2L354.7,192.9L354.2,190.4L356.9,190.2L357.2,188.7L356.0,186.4L353.5,186.9L353.7,186.2L352.4,185.2L351.2,182.5L352.3,182.5L352.1,179.3L353.6,177.4L357.2,177.4L355.1,179.8L356.4,179.6L359.2,179.6L357.1,183.7L358.8,183.7L359.9,184.9L360.7,187.2L363.2,189.7L363.8,191.4L366.3,191.9L364.6,194.9L365.8,195.7L363.6,196.7L361.0,196.7L359.0,197.2L356.2,197.2L354.6,197.7L351.6,198.4ZM352.3,187.7L351.1,188.7L350.2,188.5L348.2,188.4L347.1,187.5L348.5,186.9L349.3,185.9L349.5,185.5L351.2,185.7Z" fill="#ece7f2"/>
<path d="M351.0,192.9L348.2,193.7L344.2,194.9L342.4,193.7L344.3,191.9L343.6,190.2L343.6,188.2L346.5,187.7L346.8,186.2L348.9,185.4L349.5,185.5L349.3,185.9L348.5,186.9L347.1,187.5L348.2,188.4L350.2,188.5L351.1,188.7L350.9,190.4Z" fill="#d0d1e6"/>
<path d="M433.4,237.4L434.8,236.4L438.2,235.6L437.1,237.4L435.0,238.5Z" fill="#fff7fb"/>
<path d="M651.5,241.1L652.9,243.2L653.0,246.8L652.0,247.9L650.6,247.1L649.4,244.0L648.3,243.4L647.6,242.1L648.6,240.3ZM656.4,239.3L657.9,240.6L657.4,241.9L655.2,241.9L654.8,243.2L653.2,241.4L653.9,240.0ZM667.1,228.8L666.9,230.9L668.5,234.8L668.4,236.9L667.6,237.4L666.5,236.1L665.8,238.2L662.4,238.5L661.8,239.0L661.7,241.4L660.4,241.4L658.2,239.3L655.7,238.2L652.6,239.5L649.6,240.0L649.1,239.0L651.4,236.4L654.3,236.1L657.5,235.9L658.3,234.3L658.1,231.4L658.9,230.9L659.6,232.7L661.7,231.2L662.5,229.1L661.7,225.7L660.3,222.8L660.0,221.3L661.8,220.8L665.2,224.4ZM656.7,216.1L658.8,216.1L657.5,213.3L655.8,210.2L660.3,213.0L665.2,213.5L667.4,215.8L664.8,219.2L659.4,217.9L660.9,219.7L659.5,220.5L657.2,218.4Z" fill="#74a9cf"/>
<path d="M635.1,263.6L637.1,263.6L637.0,267.5L636.5,271.4L634.5,269.3L633.9,266.7Z" fill="#74a9cf"/>
<path d="M546.9,303.6L547.8,304.1L550.2,306.8L551.8,309.9L551.2,312.3L548.7,313.6L547.3,312.0L546.9,308.1Z" fill="#a6bddb"/>
<path d="M648.1,306.8L650.1,305.7L651.8,303.4L653.9,306.8L654.8,310.2L654.1,312.5L652.6,314.3L651.9,311.2L649.4,312.5L648.8,309.4L647.2,309.4L645.2,310.9L644.3,310.7L645.9,308.1ZM636.7,301.8L637.8,299.4L637.8,301.3L635.3,304.9L632.9,307.0L633.1,306.0L634.6,304.7ZM645.7,304.7L644.8,302.8L646.9,300.5L646.8,304.7ZM643.3,301.5L643.2,297.9L645.8,298.9L644.9,301.5ZM650.5,302.6L649.9,300.7L648.8,299.2L648.3,296.3L650.5,296.3L651.9,299.7ZM640.8,297.1L639.0,293.9L640.9,293.9L641.8,296.3ZM640.7,287.7L642.0,291.8L644.3,292.4L647.4,295.0L647.5,296.0L645.0,294.5L642.6,293.4L640.3,293.2L639.2,291.6L639.7,290.3L637.8,289.8L637.8,286.6L637.5,283.2L637.5,280.6L641.1,280.6L642.0,284.5Z" fill="#fff7fb"/>
<path d="M639.0,355.9L637.3,354.6L636.9,353.9L639.2,353.6L640.9,355.2ZM630.2,351.0L631.8,350.7L631.2,352.3L630.1,352.0ZM633.5,352.5L631.9,352.5L632.0,351.2L634.4,350.2L637.1,351.0L636.8,352.0ZM629.3,350.5L628.3,352.0L626.8,350.2ZM619.0,345.7L622.8,347.3L626.8,349.4L626.5,351.5L621.0,351.0L615.3,349.4L611.9,349.4L608.5,348.1L605.6,346.8L607.5,344.4L612.1,346.0L617.8,347.1ZM598.2,324.6L602.0,327.7L602.9,331.6L607.9,336.8L607.3,344.2L604.1,344.2L600.8,340.8L597.5,336.3L595.0,331.6L591.8,327.7L590.6,324.3L588.2,321.7L585.9,319.3L583.0,316.4L582.9,314.3L588.0,315.4L590.9,319.1L594.7,322.7ZM634.5,331.1L632.2,332.9L631.4,337.6L630.9,338.9L627.6,339.7L624.0,337.6L621.2,337.9L617.6,336.3L617.4,332.9L615.4,330.3L614.9,328.2L614.9,325.1L616.2,323.8L616.3,324.3L617.9,326.6L621.4,326.4L622.3,325.3L625.7,325.6L627.8,325.1L628.7,321.7L630.0,320.1L629.7,317.7L630.8,317.7L634.5,318.1L635.7,318.2L635.1,319.8L635.6,323.2L637.8,326.4L635.2,326.9ZM651.0,354.2L649.1,355.7L647.0,355.9L649.6,353.1L651.0,352.6L650.9,353.6ZM641.6,352.3L639.1,352.0L639.2,351.0L642.8,351.2L646.3,350.5L645.8,351.8ZM678.4,334.8L681.9,333.2L685.3,334.5L688.7,335.8L688.5,341.5L688.1,347.1L687.6,352.8L684.4,350.2L680.9,351.0L683.0,346.8L681.4,343.4L676.9,341.0L672.4,339.2L670.1,339.5L669.8,336.6L671.4,335.3L668.4,334.8L665.7,332.7L665.7,331.1L669.2,330.0L672.7,331.1L673.1,334.2L674.8,337.6ZM654.0,337.4L656.4,337.1L656.7,338.7L654.4,338.9ZM660.5,337.9L658.4,337.4L662.2,336.3L665.1,337.1L664.4,338.9ZM650.3,328.0L643.8,327.7L640.6,329.5L642.6,332.4L647.0,331.1L644.4,334.0L645.7,337.4L647.5,339.5L645.9,343.1L644.4,341.6L643.1,338.2L642.3,336.1L641.1,336.6L640.8,343.4L638.7,343.4L638.8,338.2L637.4,336.3L638.7,332.1L639.9,329.3L639.9,326.9L642.4,325.6L647.3,326.6L652.3,324.8ZM660.7,328.2L658.8,331.1L658.1,328.5L657.4,326.4L658.7,323.2L660.4,325.1L659.3,327.7Z" fill="#fff7fb"/>
<path d="M627.3,316.4L629.1,316.0L629.3,317.7L627.8,318.5L626.7,317.1Z" fill="#fff7fb"/>
<path d="M651.0,352.5L656.2,351.0L654.7,352.5L651.1,354.1L651.0,354.2L650.9,353.6L651.0,352.6Z" fill="#fff7fb"/>
<path d="M699.5,341.8L699.9,343.4L703.2,344.7L703.8,346.5L701.9,346.8L704.4,350.2L708.2,354.4L709.8,355.9L706.8,356.2L702.3,355.2L699.4,350.2L696.0,348.9L693.3,350.7L692.2,353.1L687.6,352.8L688.1,347.1L688.5,341.5L688.7,335.8L693.3,337.9L696.7,338.9ZM721.1,346.8L719.9,344.7L719.7,343.1L722.3,346.0ZM712.8,340.0L714.6,340.3L712.5,343.7L709.0,345.5L706.7,345.0L705.2,343.7L709.2,342.1ZM716.2,340.8L715.3,340.0L712.9,337.4L711.4,336.1L714.5,337.9Z" fill="#fff7fb"/>
<path d="M734.9,357.3L734.0,355.7L736.1,357.0ZM732.5,355.2L730.7,354.6L730.4,353.3L733.0,354.4ZM733.7,354.1L732.8,352.0L732.9,350.7L734.2,353.6ZM731.1,351.0L730.4,351.2L725.9,349.4L723.8,346.8L726.0,348.4Z" fill="#d0d1e6"/>
<path d="M746.2,371.9L745.4,372.4L745.0,370.9ZM745.6,368.2L745.1,370.3L744.1,369.8L744.3,367.5Z" fill="#d0d1e6"/>
<path d="M735.2,381.6L738.0,383.9L740.6,387.1L739.8,387.6L736.5,385.3L734.9,382.9Z" fill="url(#nd)"/>
<path d="M770.0,374.5L770.0,376.4L767.2,376.6L767.2,374.8ZM774.2,371.4L773.3,373.2L770.9,373.5L770.9,372.4Z" fill="#d0d1e6"/>
<path d="M170.9,271.7L175.6,268.8L179.1,268.3L183.5,269.3L187.6,272.0L191.9,274.6L194.6,276.1L192.7,276.9L186.6,276.9L188.4,275.1L185.3,272.7L180.9,271.4L177.7,270.4L173.5,271.4Z" fill="#3690c0"/>
<path d="M197.3,280.6L198.4,279.3L196.6,276.9L200.1,277.2L200.0,277.5L200.0,279.3L199.2,280.3L199.6,281.9L199.5,282.6L197.9,281.4L194.5,281.6L193.7,280.3Z" fill="#ece7f2"/>
<path d="M200.2,277.2L204.0,277.5L207.4,280.3L205.9,281.1L202.5,281.4L199.6,282.7L199.5,282.6L199.6,281.9L199.2,280.3L200.0,279.3L200.0,277.5L200.1,277.2Z" fill="#ece7f2"/>
<path d="M184.8,280.9L187.8,280.6L189.4,281.9L187.1,282.4L184.9,281.6Z" fill="#fff7fb"/>
<path d="M210.1,280.6L213.4,280.9L213.1,281.9L209.9,281.9Z" fill="#ece7f2"/>
<path d="M220.9,300.7L223.0,300.7L222.7,302.6L220.6,302.6Z" fill="#74a9cf"/>
<path d="M192.8,264.9L191.9,265.4L191.4,263.9ZM188.2,265.7L187.1,265.7L186.9,264.1L188.3,263.3ZM189.8,261.0L188.5,259.4L188.9,258.6L190.5,259.7Z" fill="#fff7fb"/>
<path d="M501.9,456.8L505.0,456.8L504.2,458.3L501.8,458.3Z" fill="url(#nd)"/>
<path d="M462.5,359.1L463.2,359.3L462.7,360.1Z" fill="#ece7f2"/>
<path d="M493.3,381.6L494.2,381.9L493.4,382.6Z" fill="#d0d1e6"/>
<path d="M488.3,383.7L489.4,384.2L488.7,385.0Z" fill="url(#nd)"/>
<path d="M308.8,289.2L309.5,289.2L309.2,290.0Z" fill="#ece7f2"/>
<path d="M221.9,286.1L223.2,286.1L222.5,287.4Z" fill="url(#nd)"/>
<path d="M222.4,288.2L223.0,289.0L222.6,289.2Z" fill="#ece7f2"/>
<path d="M223.0,290.0L223.8,290.8L223.1,291.3Z" fill="url(#nd)"/>
<path d="M223.0,292.1L223.4,293.2L223.0,293.2Z" fill="#ece7f2"/>
<path d="M226.1,294.2L226.8,294.7L226.3,295.0Z" fill="#fff7fb"/>
<path d="M221.1,297.1L221.6,297.6L221.1,297.6Z" fill="#ece7f2"/>
<path d="M219.6,283.5L220.5,284.0L220.0,284.3Z" fill="#ece7f2"/>
</g>
<defs><pattern id="hatch" width="3.75" height="3.75" patternUnits="userSpaceOnUse" patternTransform="rotate(45)"><rect width="3.75" height="3.75" fill="#fff"/><line x1="1" y1="0" x2="1" y2="3.75" stroke="#d6d6d6" stroke-width="1.2"/></pattern></defs>
<rect x="157.5" y="537.5" width="47" height="10.6" fill="url(#hatch)" stroke="#bbb" stroke-width="0.7"/>
<line x1="181" y1="533.5" x2="181" y2="537.5" stroke="#bbb" stroke-width="0.8"/>
<rect x="224.6" y="537.5" width="58.5" height="10.6" fill="#fff7fb" stroke="#c6c6c6" stroke-width="0.6"/>
<rect x="283.1" y="537.5" width="58.5" height="10.6" fill="#ece7f2" stroke="#c6c6c6" stroke-width="0.6"/>
<rect x="341.6" y="537.5" width="58.5" height="10.6" fill="#d0d1e6" stroke="#c6c6c6" stroke-width="0.6"/>
<rect x="400.1" y="537.5" width="58.5" height="10.6" fill="#a6bddb" stroke="#c6c6c6" stroke-width="0.6"/>
<rect x="458.6" y="537.5" width="58.5" height="10.6" fill="#74a9cf" stroke="#c6c6c6" stroke-width="0.6"/>
<rect x="517.1" y="537.5" width="58.5" height="10.6" fill="#3690c0" stroke="#c6c6c6" stroke-width="0.6"/>
<rect x="575.6" y="537.5" width="58.5" height="10.6" fill="#0570b0" stroke="#c6c6c6" stroke-width="0.6"/>
<path d="M634.1,537.5H687L693,542.8L687,548.1H634.1Z" fill="#034e7b" stroke="#034e7b" stroke-width="0.4"/>
<line x1="224.6" y1="533.5" x2="224.6" y2="548.1" stroke="#b0b0b0" stroke-width="0.8"/>
<line x1="283.1" y1="533.5" x2="283.1" y2="548.1" stroke="#b0b0b0" stroke-width="0.8"/>
<line x1="341.6" y1="533.5" x2="341.6" y2="548.1" stroke="#b0b0b0" stroke-width="0.8"/>
<line x1="400.1" y1="533.5" x2="400.1" y2="548.1" stroke="#b0b0b0" stroke-width="0.8"/>
<line x1="458.6" y1="533.5" x2="458.6" y2="548.1" stroke="#b0b0b0" stroke-width="0.8"/>
<line x1="517.1" y1="533.5" x2="517.1" y2="548.1" stroke="#b0b0b0" stroke-width="0.8"/>
<line x1="575.6" y1="533.5" x2="575.6" y2="548.1" stroke="#b0b0b0" stroke-width="0.8"/>
<line x1="634.1" y1="533.5" x2="634.1" y2="548.1" stroke="#b0b0b0" stroke-width="0.8"/>
</svg>
<div id="nd">No data</div>
<div class="tk" style="left:204.6px">0</div><div class="tk" style="left:263.1px">5</div><div class="tk" style="left:321.6px">10</div><div class="tk" style="left:380.1px">15</div><div class="tk" style="left:438.6px">20</div><div class="tk" style="left:497.1px">25</div><div class="tk" style="left:555.6px">30</div><div class="tk" style="left:614.1px">35</div>
<div class="ft" id="fl"><b>Data source:</b> IHME, Global Burden of Disease (2025)</div>
<div class="ft" id="fr">OurWorldinData.org/suicide | CC BY</div>
</body></html>
